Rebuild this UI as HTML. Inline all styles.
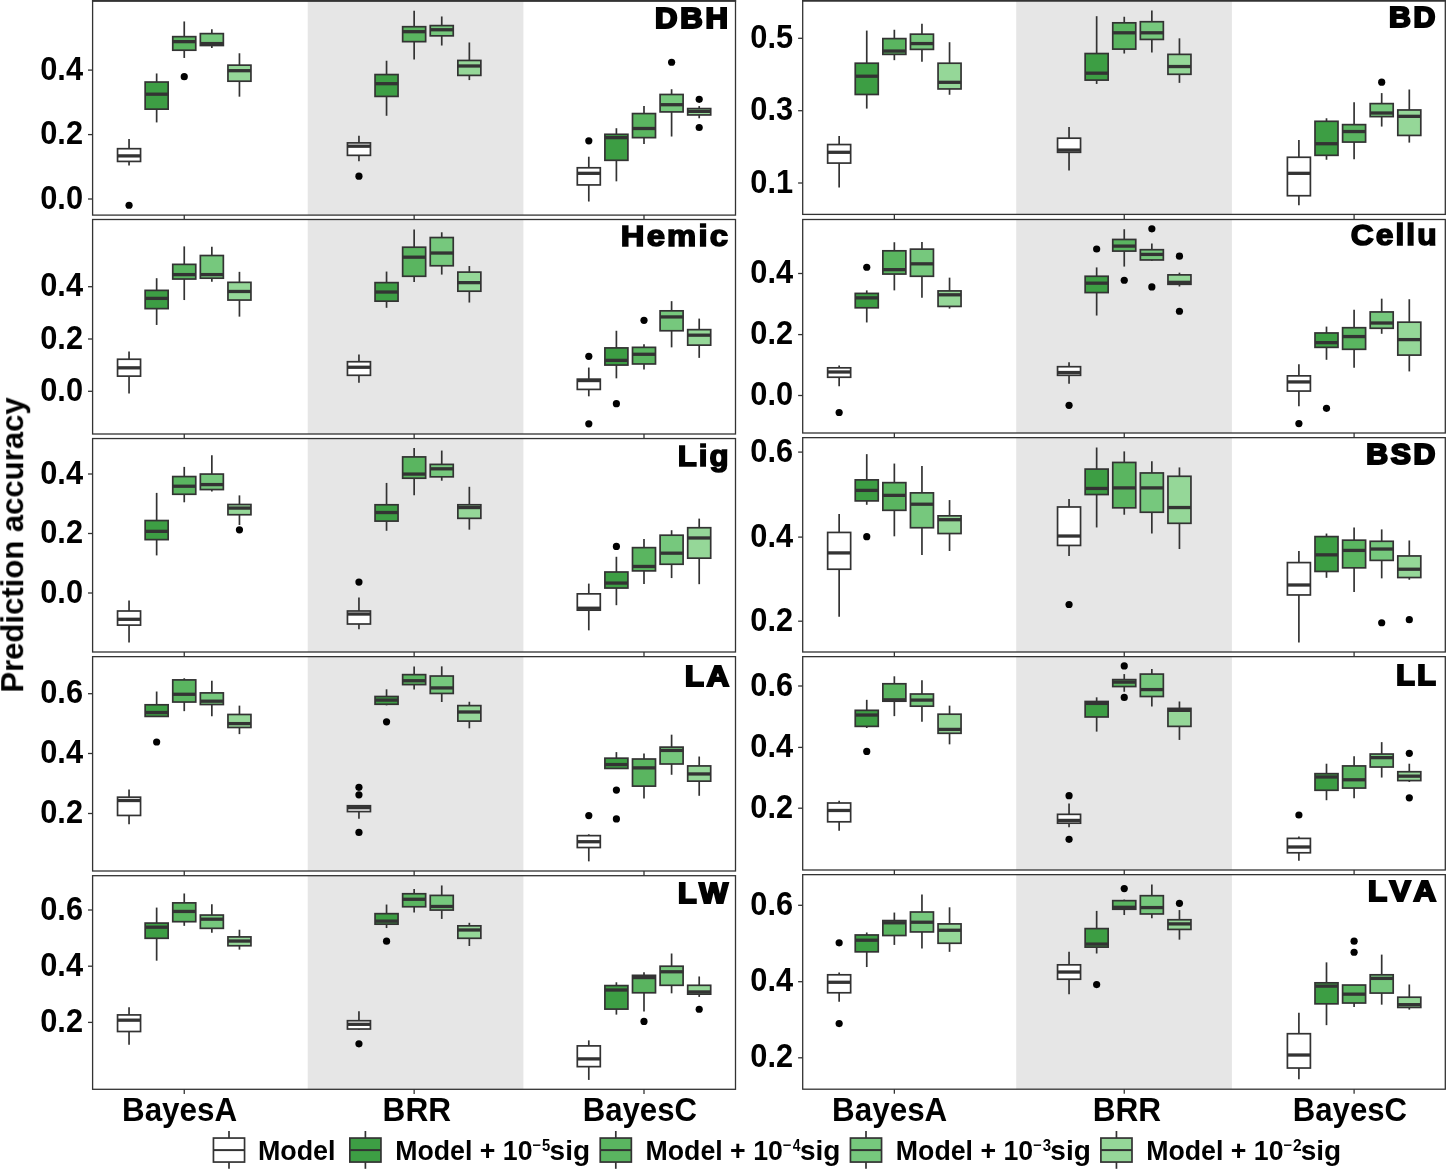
<!DOCTYPE html>
<html><head><meta charset="utf-8"><title>Prediction accuracy</title>
<style>html,body{margin:0;padding:0;background:#fff}svg{display:block}text{font-family:"Liberation Sans",sans-serif;font-weight:bold;fill:#000}</style>
</head><body>
<svg width="1446" height="1174" viewBox="0 0 1446 1174">
<rect x="0" y="0" width="1446" height="1174" fill="#ffffff"/>
<g style="opacity:0.999">
<g id="DBH">
<rect x="307.7" y="0.9" width="215.7" height="214.2" fill="#E6E6E6"/>
<line x1="129.05" y1="139.02" x2="129.05" y2="148.7" stroke="#333333" stroke-width="1.7"/>
<line x1="129.05" y1="161.42" x2="129.05" y2="165.57" stroke="#333333" stroke-width="1.7"/>
<rect x="117.55" y="148.7" width="23" height="12.72" fill="#FFFFFF" stroke="#333333" stroke-width="1.7"/>
<line x1="117.55" y1="155.89" x2="140.55" y2="155.89" stroke="#333333" stroke-width="3.3"/>
<circle cx="129.05" cy="205.26" r="3.6" fill="#000"/>
<line x1="156.65" y1="73.46" x2="156.65" y2="82.03" stroke="#333333" stroke-width="1.7"/>
<line x1="156.65" y1="109.14" x2="156.65" y2="122.42" stroke="#333333" stroke-width="1.7"/>
<rect x="145.15" y="82.03" width="23" height="27.11" fill="#3D9E44" stroke="#333333" stroke-width="1.7"/>
<line x1="145.15" y1="94.2" x2="168.15" y2="94.2" stroke="#333333" stroke-width="3.3"/>
<line x1="184.25" y1="21.45" x2="184.25" y2="36.66" stroke="#333333" stroke-width="1.7"/>
<line x1="184.25" y1="50.22" x2="184.25" y2="57.96" stroke="#333333" stroke-width="1.7"/>
<rect x="172.75" y="36.66" width="23" height="13.55" fill="#5AB560" stroke="#333333" stroke-width="1.7"/>
<line x1="172.75" y1="41.64" x2="195.75" y2="41.64" stroke="#333333" stroke-width="3.3"/>
<circle cx="184.25" cy="76.63" r="3.6" fill="#000"/>
<line x1="211.85" y1="29.2" x2="211.85" y2="33.62" stroke="#333333" stroke-width="1.7"/>
<line x1="211.85" y1="45.52" x2="211.85" y2="48.01" stroke="#333333" stroke-width="1.7"/>
<rect x="200.35" y="33.62" width="23" height="11.89" fill="#76C87D" stroke="#333333" stroke-width="1.7"/>
<line x1="200.35" y1="43.58" x2="223.35" y2="43.58" stroke="#333333" stroke-width="3.3"/>
<line x1="239.45" y1="53.26" x2="239.45" y2="65.16" stroke="#333333" stroke-width="1.7"/>
<line x1="239.45" y1="81.2" x2="239.45" y2="96.69" stroke="#333333" stroke-width="1.7"/>
<rect x="227.95" y="65.16" width="23" height="16.04" fill="#95D798" stroke="#333333" stroke-width="1.7"/>
<line x1="227.95" y1="70.69" x2="250.95" y2="70.69" stroke="#333333" stroke-width="3.3"/>
<line x1="358.95" y1="135.7" x2="358.95" y2="142.89" stroke="#333333" stroke-width="1.7"/>
<line x1="358.95" y1="155.34" x2="358.95" y2="161.15" stroke="#333333" stroke-width="1.7"/>
<rect x="347.45" y="142.89" width="23" height="12.45" fill="#FFFFFF" stroke="#333333" stroke-width="1.7"/>
<line x1="347.45" y1="146.21" x2="370.45" y2="146.21" stroke="#333333" stroke-width="3.3"/>
<circle cx="358.95" cy="176.21" r="3.6" fill="#000"/>
<line x1="386.55" y1="60.73" x2="386.55" y2="74.56" stroke="#333333" stroke-width="1.7"/>
<line x1="386.55" y1="96.42" x2="386.55" y2="115.78" stroke="#333333" stroke-width="1.7"/>
<rect x="375.05" y="74.56" width="23" height="21.85" fill="#3D9E44" stroke="#333333" stroke-width="1.7"/>
<line x1="375.05" y1="83.69" x2="398.05" y2="83.69" stroke="#333333" stroke-width="3.3"/>
<line x1="414.15" y1="10.66" x2="414.15" y2="26.71" stroke="#333333" stroke-width="1.7"/>
<line x1="414.15" y1="41.64" x2="414.15" y2="59.62" stroke="#333333" stroke-width="1.7"/>
<rect x="402.65" y="26.71" width="23" height="14.94" fill="#5AB560" stroke="#333333" stroke-width="1.7"/>
<line x1="402.65" y1="31.69" x2="425.65" y2="31.69" stroke="#333333" stroke-width="3.3"/>
<line x1="441.75" y1="16.47" x2="441.75" y2="25.6" stroke="#333333" stroke-width="1.7"/>
<line x1="441.75" y1="35.83" x2="441.75" y2="45.52" stroke="#333333" stroke-width="1.7"/>
<rect x="430.25" y="25.6" width="23" height="10.24" fill="#76C87D" stroke="#333333" stroke-width="1.7"/>
<line x1="430.25" y1="29.75" x2="453.25" y2="29.75" stroke="#333333" stroke-width="3.3"/>
<line x1="469.35" y1="42.47" x2="469.35" y2="60.45" stroke="#333333" stroke-width="1.7"/>
<line x1="469.35" y1="75.39" x2="469.35" y2="80.09" stroke="#333333" stroke-width="1.7"/>
<rect x="457.85" y="60.45" width="23" height="14.94" fill="#95D798" stroke="#333333" stroke-width="1.7"/>
<line x1="457.85" y1="65.99" x2="480.85" y2="65.99" stroke="#333333" stroke-width="3.3"/>
<line x1="588.8" y1="156.72" x2="588.8" y2="167.78" stroke="#333333" stroke-width="1.7"/>
<line x1="588.8" y1="184.94" x2="588.8" y2="201.53" stroke="#333333" stroke-width="1.7"/>
<rect x="577.3" y="167.78" width="23" height="17.15" fill="#FFFFFF" stroke="#333333" stroke-width="1.7"/>
<line x1="577.3" y1="173.32" x2="600.3" y2="173.32" stroke="#333333" stroke-width="3.3"/>
<circle cx="588.8" cy="140.8" r="3.6" fill="#000"/>
<line x1="616.4" y1="128.23" x2="616.4" y2="134.31" stroke="#333333" stroke-width="1.7"/>
<line x1="616.4" y1="160.32" x2="616.4" y2="181.34" stroke="#333333" stroke-width="1.7"/>
<rect x="604.9" y="134.31" width="23" height="26" fill="#3D9E44" stroke="#333333" stroke-width="1.7"/>
<line x1="604.9" y1="137.63" x2="627.9" y2="137.63" stroke="#333333" stroke-width="3.3"/>
<line x1="644" y1="106.1" x2="644" y2="113.57" stroke="#333333" stroke-width="1.7"/>
<line x1="644" y1="137.63" x2="644" y2="144" stroke="#333333" stroke-width="1.7"/>
<rect x="632.5" y="113.57" width="23" height="24.07" fill="#5AB560" stroke="#333333" stroke-width="1.7"/>
<line x1="632.5" y1="128.5" x2="655.5" y2="128.5" stroke="#333333" stroke-width="3.3"/>
<line x1="671.6" y1="89.22" x2="671.6" y2="94.48" stroke="#333333" stroke-width="1.7"/>
<line x1="671.6" y1="111.91" x2="671.6" y2="136.53" stroke="#333333" stroke-width="1.7"/>
<rect x="660.1" y="94.48" width="23" height="17.43" fill="#76C87D" stroke="#333333" stroke-width="1.7"/>
<line x1="660.1" y1="104.71" x2="683.1" y2="104.71" stroke="#333333" stroke-width="3.3"/>
<circle cx="671.6" cy="62.24" r="3.6" fill="#000"/>
<line x1="699.2" y1="106.1" x2="699.2" y2="108.59" stroke="#333333" stroke-width="1.7"/>
<line x1="699.2" y1="114.95" x2="699.2" y2="118.27" stroke="#333333" stroke-width="1.7"/>
<rect x="687.7" y="108.59" width="23" height="6.36" fill="#95D798" stroke="#333333" stroke-width="1.7"/>
<line x1="687.7" y1="111.35" x2="710.7" y2="111.35" stroke="#333333" stroke-width="3.3"/>
<circle cx="699.2" cy="99.31" r="3.6" fill="#000"/>
<circle cx="699.2" cy="127.52" r="3.6" fill="#000"/>
<rect x="92.6" y="0.9" width="642.9" height="214.2" fill="none" stroke="#333333" stroke-width="1.3"/>
<line x1="91.95" y1="0.85" x2="736.15" y2="0.85" stroke="#333333" stroke-width="1.7"/>
<line x1="184.25" y1="215.1" x2="184.25" y2="219.7" stroke="#333333" stroke-width="1.3"/>
<line x1="414.15" y1="215.1" x2="414.15" y2="219.7" stroke="#333333" stroke-width="1.3"/>
<line x1="644" y1="215.1" x2="644" y2="219.7" stroke="#333333" stroke-width="1.3"/>
<line x1="88" y1="70.1" x2="92.6" y2="70.1" stroke="#333333" stroke-width="1.3"/>
<text transform="translate(83,79.6) scale(0.94,1)" font-size="32.75" text-anchor="end">0.4</text>
<line x1="88" y1="134.6" x2="92.6" y2="134.6" stroke="#333333" stroke-width="1.3"/>
<text transform="translate(83,144.1) scale(0.94,1)" font-size="32.75" text-anchor="end">0.2</text>
<line x1="88" y1="199" x2="92.6" y2="199" stroke="#333333" stroke-width="1.3"/>
<text transform="translate(83,208.5) scale(0.94,1)" font-size="32.75" text-anchor="end">0.0</text>
<text transform="translate(655.09,27.75) scale(1.0536,1)" font-size="29.5" stroke="#000" stroke-width="2.2" stroke-linejoin="miter" style="font-kerning:none" letter-spacing="2.6">DBH</text>
</g>
<g id="BD">
<rect x="1016.2" y="0.2" width="215.7" height="214.2" fill="#E6E6E6"/>
<line x1="839.15" y1="135.97" x2="839.15" y2="144.55" stroke="#333333" stroke-width="1.7"/>
<line x1="839.15" y1="163.08" x2="839.15" y2="187.43" stroke="#333333" stroke-width="1.7"/>
<rect x="827.65" y="144.55" width="23" height="18.53" fill="#FFFFFF" stroke="#333333" stroke-width="1.7"/>
<line x1="827.65" y1="152.29" x2="850.65" y2="152.29" stroke="#333333" stroke-width="3.3"/>
<line x1="866.75" y1="30.58" x2="866.75" y2="63.22" stroke="#333333" stroke-width="1.7"/>
<line x1="866.75" y1="94.48" x2="866.75" y2="108.59" stroke="#333333" stroke-width="1.7"/>
<rect x="855.25" y="63.22" width="23" height="31.26" fill="#3D9E44" stroke="#333333" stroke-width="1.7"/>
<line x1="855.25" y1="76.22" x2="878.25" y2="76.22" stroke="#333333" stroke-width="3.3"/>
<line x1="894.35" y1="29.75" x2="894.35" y2="38.6" stroke="#333333" stroke-width="1.7"/>
<line x1="894.35" y1="54.37" x2="894.35" y2="60.18" stroke="#333333" stroke-width="1.7"/>
<rect x="882.85" y="38.6" width="23" height="15.77" fill="#5AB560" stroke="#333333" stroke-width="1.7"/>
<line x1="882.85" y1="51.05" x2="905.85" y2="51.05" stroke="#333333" stroke-width="3.3"/>
<line x1="921.95" y1="23.66" x2="921.95" y2="34.17" stroke="#333333" stroke-width="1.7"/>
<line x1="921.95" y1="49.39" x2="921.95" y2="61.84" stroke="#333333" stroke-width="1.7"/>
<rect x="910.45" y="34.17" width="23" height="15.21" fill="#76C87D" stroke="#333333" stroke-width="1.7"/>
<line x1="910.45" y1="43.58" x2="933.45" y2="43.58" stroke="#333333" stroke-width="3.3"/>
<line x1="949.55" y1="42.2" x2="949.55" y2="63.22" stroke="#333333" stroke-width="1.7"/>
<line x1="949.55" y1="88.95" x2="949.55" y2="94.76" stroke="#333333" stroke-width="1.7"/>
<rect x="938.05" y="63.22" width="23" height="25.73" fill="#95D798" stroke="#333333" stroke-width="1.7"/>
<line x1="938.05" y1="82.31" x2="961.05" y2="82.31" stroke="#333333" stroke-width="3.3"/>
<line x1="1069.05" y1="127.12" x2="1069.05" y2="138.19" stroke="#333333" stroke-width="1.7"/>
<line x1="1069.05" y1="152.29" x2="1069.05" y2="170.55" stroke="#333333" stroke-width="1.7"/>
<rect x="1057.55" y="138.19" width="23" height="14.11" fill="#FFFFFF" stroke="#333333" stroke-width="1.7"/>
<line x1="1057.55" y1="150.08" x2="1080.55" y2="150.08" stroke="#333333" stroke-width="3.3"/>
<line x1="1096.65" y1="16.19" x2="1096.65" y2="53.54" stroke="#333333" stroke-width="1.7"/>
<line x1="1096.65" y1="80.09" x2="1096.65" y2="83.97" stroke="#333333" stroke-width="1.7"/>
<rect x="1085.15" y="53.54" width="23" height="26.56" fill="#3D9E44" stroke="#333333" stroke-width="1.7"/>
<line x1="1085.15" y1="73.18" x2="1108.15" y2="73.18" stroke="#333333" stroke-width="3.3"/>
<line x1="1124.25" y1="16.75" x2="1124.25" y2="22.83" stroke="#333333" stroke-width="1.7"/>
<line x1="1124.25" y1="49.11" x2="1124.25" y2="53.54" stroke="#333333" stroke-width="1.7"/>
<rect x="1112.75" y="22.83" width="23" height="26.28" fill="#5AB560" stroke="#333333" stroke-width="1.7"/>
<line x1="1112.75" y1="32.79" x2="1135.75" y2="32.79" stroke="#333333" stroke-width="3.3"/>
<line x1="1151.85" y1="10.39" x2="1151.85" y2="21.73" stroke="#333333" stroke-width="1.7"/>
<line x1="1151.85" y1="39.43" x2="1151.85" y2="52.43" stroke="#333333" stroke-width="1.7"/>
<rect x="1140.35" y="21.73" width="23" height="17.7" fill="#76C87D" stroke="#333333" stroke-width="1.7"/>
<line x1="1140.35" y1="32.79" x2="1163.35" y2="32.79" stroke="#333333" stroke-width="3.3"/>
<line x1="1179.45" y1="38.32" x2="1179.45" y2="54.37" stroke="#333333" stroke-width="1.7"/>
<line x1="1179.45" y1="74.29" x2="1179.45" y2="82.86" stroke="#333333" stroke-width="1.7"/>
<rect x="1167.95" y="54.37" width="23" height="19.92" fill="#95D798" stroke="#333333" stroke-width="1.7"/>
<line x1="1167.95" y1="66.54" x2="1190.95" y2="66.54" stroke="#333333" stroke-width="3.3"/>
<line x1="1298.9" y1="140.12" x2="1298.9" y2="157.27" stroke="#333333" stroke-width="1.7"/>
<line x1="1298.9" y1="195.72" x2="1298.9" y2="205.13" stroke="#333333" stroke-width="1.7"/>
<rect x="1287.4" y="157.27" width="23" height="38.45" fill="#FFFFFF" stroke="#333333" stroke-width="1.7"/>
<line x1="1287.4" y1="173.32" x2="1310.4" y2="173.32" stroke="#333333" stroke-width="3.3"/>
<line x1="1326.5" y1="118.27" x2="1326.5" y2="121.31" stroke="#333333" stroke-width="1.7"/>
<line x1="1326.5" y1="155.34" x2="1326.5" y2="159.76" stroke="#333333" stroke-width="1.7"/>
<rect x="1315" y="121.31" width="23" height="34.02" fill="#3D9E44" stroke="#333333" stroke-width="1.7"/>
<line x1="1315" y1="143.72" x2="1338" y2="143.72" stroke="#333333" stroke-width="3.3"/>
<line x1="1354.1" y1="102.22" x2="1354.1" y2="124.63" stroke="#333333" stroke-width="1.7"/>
<line x1="1354.1" y1="142.06" x2="1354.1" y2="159.21" stroke="#333333" stroke-width="1.7"/>
<rect x="1342.6" y="124.63" width="23" height="17.43" fill="#5AB560" stroke="#333333" stroke-width="1.7"/>
<line x1="1342.6" y1="131.55" x2="1365.6" y2="131.55" stroke="#333333" stroke-width="3.3"/>
<line x1="1381.7" y1="93.1" x2="1381.7" y2="103.61" stroke="#333333" stroke-width="1.7"/>
<line x1="1381.7" y1="116.61" x2="1381.7" y2="126.57" stroke="#333333" stroke-width="1.7"/>
<rect x="1370.2" y="103.61" width="23" height="13" fill="#76C87D" stroke="#333333" stroke-width="1.7"/>
<line x1="1370.2" y1="113.01" x2="1393.2" y2="113.01" stroke="#333333" stroke-width="3.3"/>
<circle cx="1381.7" cy="82.16" r="3.6" fill="#000"/>
<line x1="1409.3" y1="89.5" x2="1409.3" y2="109.97" stroke="#333333" stroke-width="1.7"/>
<line x1="1409.3" y1="135.42" x2="1409.3" y2="142.61" stroke="#333333" stroke-width="1.7"/>
<rect x="1397.8" y="109.97" width="23" height="25.45" fill="#95D798" stroke="#333333" stroke-width="1.7"/>
<line x1="1397.8" y1="116.33" x2="1420.8" y2="116.33" stroke="#333333" stroke-width="3.3"/>
<rect x="802.7" y="0.2" width="642.6" height="214.2" fill="none" stroke="#333333" stroke-width="1.3"/>
<line x1="802.05" y1="0.85" x2="1445.95" y2="0.85" stroke="#333333" stroke-width="1.7"/>
<line x1="894.35" y1="214.4" x2="894.35" y2="219" stroke="#333333" stroke-width="1.3"/>
<line x1="1124.25" y1="214.4" x2="1124.25" y2="219" stroke="#333333" stroke-width="1.3"/>
<line x1="1354.1" y1="214.4" x2="1354.1" y2="219" stroke="#333333" stroke-width="1.3"/>
<line x1="798.1" y1="38.3" x2="802.7" y2="38.3" stroke="#333333" stroke-width="1.3"/>
<text transform="translate(793.1,47.8) scale(0.94,1)" font-size="32.75" text-anchor="end">0.5</text>
<line x1="798.1" y1="110.7" x2="802.7" y2="110.7" stroke="#333333" stroke-width="1.3"/>
<text transform="translate(793.1,120.2) scale(0.94,1)" font-size="32.75" text-anchor="end">0.3</text>
<line x1="798.1" y1="183" x2="802.7" y2="183" stroke="#333333" stroke-width="1.3"/>
<text transform="translate(793.1,192.5) scale(0.94,1)" font-size="32.75" text-anchor="end">0.1</text>
<text transform="translate(1389.06,27) scale(1.0253,1)" font-size="29.5" stroke="#000" stroke-width="2.2" stroke-linejoin="miter" style="font-kerning:none" letter-spacing="2.6">BD</text>
</g>
<g id="Hemic">
<rect x="307.7" y="219.5" width="215.7" height="214.5" fill="#E6E6E6"/>
<line x1="129.05" y1="351.51" x2="129.05" y2="359.25" stroke="#333333" stroke-width="1.7"/>
<line x1="129.05" y1="376.13" x2="129.05" y2="393.55" stroke="#333333" stroke-width="1.7"/>
<rect x="117.55" y="359.25" width="23" height="16.87" fill="#FFFFFF" stroke="#333333" stroke-width="1.7"/>
<line x1="117.55" y1="367.83" x2="140.55" y2="367.83" stroke="#333333" stroke-width="3.3"/>
<line x1="156.65" y1="278.2" x2="156.65" y2="290.37" stroke="#333333" stroke-width="1.7"/>
<line x1="156.65" y1="308.63" x2="156.65" y2="324.95" stroke="#333333" stroke-width="1.7"/>
<rect x="145.15" y="290.37" width="23" height="18.26" fill="#3D9E44" stroke="#333333" stroke-width="1.7"/>
<line x1="145.15" y1="298.39" x2="168.15" y2="298.39" stroke="#333333" stroke-width="3.3"/>
<line x1="184.25" y1="246.39" x2="184.25" y2="264.37" stroke="#333333" stroke-width="1.7"/>
<line x1="184.25" y1="279.03" x2="184.25" y2="300.05" stroke="#333333" stroke-width="1.7"/>
<rect x="172.75" y="264.37" width="23" height="14.66" fill="#5AB560" stroke="#333333" stroke-width="1.7"/>
<line x1="172.75" y1="274.6" x2="195.75" y2="274.6" stroke="#333333" stroke-width="3.3"/>
<line x1="211.85" y1="246.66" x2="211.85" y2="255.52" stroke="#333333" stroke-width="1.7"/>
<line x1="211.85" y1="278.2" x2="211.85" y2="281.8" stroke="#333333" stroke-width="1.7"/>
<rect x="200.35" y="255.52" width="23" height="22.68" fill="#76C87D" stroke="#333333" stroke-width="1.7"/>
<line x1="200.35" y1="274.6" x2="223.35" y2="274.6" stroke="#333333" stroke-width="3.3"/>
<line x1="239.45" y1="271.84" x2="239.45" y2="282.35" stroke="#333333" stroke-width="1.7"/>
<line x1="239.45" y1="300.05" x2="239.45" y2="316.65" stroke="#333333" stroke-width="1.7"/>
<rect x="227.95" y="282.35" width="23" height="17.7" fill="#95D798" stroke="#333333" stroke-width="1.7"/>
<line x1="227.95" y1="291.48" x2="250.95" y2="291.48" stroke="#333333" stroke-width="3.3"/>
<line x1="358.95" y1="354.55" x2="358.95" y2="361.74" stroke="#333333" stroke-width="1.7"/>
<line x1="358.95" y1="375.3" x2="358.95" y2="382.76" stroke="#333333" stroke-width="1.7"/>
<rect x="347.45" y="361.74" width="23" height="13.55" fill="#FFFFFF" stroke="#333333" stroke-width="1.7"/>
<line x1="347.45" y1="367.27" x2="370.45" y2="367.27" stroke="#333333" stroke-width="3.3"/>
<line x1="386.55" y1="271.56" x2="386.55" y2="282.63" stroke="#333333" stroke-width="1.7"/>
<line x1="386.55" y1="301.16" x2="386.55" y2="307.8" stroke="#333333" stroke-width="1.7"/>
<rect x="375.05" y="282.63" width="23" height="18.53" fill="#3D9E44" stroke="#333333" stroke-width="1.7"/>
<line x1="375.05" y1="292.03" x2="398.05" y2="292.03" stroke="#333333" stroke-width="3.3"/>
<line x1="414.15" y1="229.51" x2="414.15" y2="247.22" stroke="#333333" stroke-width="1.7"/>
<line x1="414.15" y1="276.26" x2="414.15" y2="282.07" stroke="#333333" stroke-width="1.7"/>
<rect x="402.65" y="247.22" width="23" height="29.05" fill="#5AB560" stroke="#333333" stroke-width="1.7"/>
<line x1="402.65" y1="257.18" x2="425.65" y2="257.18" stroke="#333333" stroke-width="3.3"/>
<line x1="441.75" y1="232.28" x2="441.75" y2="237.54" stroke="#333333" stroke-width="1.7"/>
<line x1="441.75" y1="265.75" x2="441.75" y2="274.6" stroke="#333333" stroke-width="1.7"/>
<rect x="430.25" y="237.54" width="23" height="28.22" fill="#76C87D" stroke="#333333" stroke-width="1.7"/>
<line x1="430.25" y1="253.03" x2="453.25" y2="253.03" stroke="#333333" stroke-width="3.3"/>
<line x1="469.35" y1="266.03" x2="469.35" y2="272.11" stroke="#333333" stroke-width="1.7"/>
<line x1="469.35" y1="291.2" x2="469.35" y2="302.54" stroke="#333333" stroke-width="1.7"/>
<rect x="457.85" y="272.11" width="23" height="19.09" fill="#95D798" stroke="#333333" stroke-width="1.7"/>
<line x1="457.85" y1="282.63" x2="480.85" y2="282.63" stroke="#333333" stroke-width="3.3"/>
<line x1="588.8" y1="367.55" x2="588.8" y2="379.17" stroke="#333333" stroke-width="1.7"/>
<line x1="588.8" y1="389.4" x2="588.8" y2="396.32" stroke="#333333" stroke-width="1.7"/>
<rect x="577.3" y="379.17" width="23" height="10.24" fill="#FFFFFF" stroke="#333333" stroke-width="1.7"/>
<line x1="577.3" y1="380.55" x2="600.3" y2="380.55" stroke="#333333" stroke-width="3.3"/>
<circle cx="588.8" cy="356.33" r="3.6" fill="#000"/>
<circle cx="588.8" cy="423.83" r="3.6" fill="#000"/>
<line x1="616.4" y1="330.76" x2="616.4" y2="347.91" stroke="#333333" stroke-width="1.7"/>
<line x1="616.4" y1="365.06" x2="616.4" y2="378.34" stroke="#333333" stroke-width="1.7"/>
<rect x="604.9" y="347.91" width="23" height="17.15" fill="#3D9E44" stroke="#333333" stroke-width="1.7"/>
<line x1="604.9" y1="360.36" x2="627.9" y2="360.36" stroke="#333333" stroke-width="3.3"/>
<circle cx="616.4" cy="403.64" r="3.6" fill="#000"/>
<line x1="644" y1="344.31" x2="644" y2="347.36" stroke="#333333" stroke-width="1.7"/>
<line x1="644" y1="363.95" x2="644" y2="369.49" stroke="#333333" stroke-width="1.7"/>
<rect x="632.5" y="347.36" width="23" height="16.6" fill="#5AB560" stroke="#333333" stroke-width="1.7"/>
<line x1="632.5" y1="354.27" x2="655.5" y2="354.27" stroke="#333333" stroke-width="3.3"/>
<circle cx="644" cy="320.37" r="3.6" fill="#000"/>
<line x1="671.6" y1="301.16" x2="671.6" y2="310.84" stroke="#333333" stroke-width="1.7"/>
<line x1="671.6" y1="330.76" x2="671.6" y2="347.36" stroke="#333333" stroke-width="1.7"/>
<rect x="660.1" y="310.84" width="23" height="19.92" fill="#76C87D" stroke="#333333" stroke-width="1.7"/>
<line x1="660.1" y1="316.93" x2="683.1" y2="316.93" stroke="#333333" stroke-width="3.3"/>
<line x1="699.2" y1="318.59" x2="699.2" y2="329.65" stroke="#333333" stroke-width="1.7"/>
<line x1="699.2" y1="345.14" x2="699.2" y2="357.87" stroke="#333333" stroke-width="1.7"/>
<rect x="687.7" y="329.65" width="23" height="15.49" fill="#95D798" stroke="#333333" stroke-width="1.7"/>
<line x1="687.7" y1="335.18" x2="710.7" y2="335.18" stroke="#333333" stroke-width="3.3"/>
<rect x="92.6" y="219.5" width="642.9" height="214.5" fill="none" stroke="#333333" stroke-width="1.3"/>
<line x1="184.25" y1="434" x2="184.25" y2="438.6" stroke="#333333" stroke-width="1.3"/>
<line x1="414.15" y1="434" x2="414.15" y2="438.6" stroke="#333333" stroke-width="1.3"/>
<line x1="644" y1="434" x2="644" y2="438.6" stroke="#333333" stroke-width="1.3"/>
<line x1="88" y1="286.7" x2="92.6" y2="286.7" stroke="#333333" stroke-width="1.3"/>
<text transform="translate(83,296.2) scale(0.94,1)" font-size="32.75" text-anchor="end">0.4</text>
<line x1="88" y1="339" x2="92.6" y2="339" stroke="#333333" stroke-width="1.3"/>
<text transform="translate(83,348.5) scale(0.94,1)" font-size="32.75" text-anchor="end">0.2</text>
<line x1="88" y1="391.3" x2="92.6" y2="391.3" stroke="#333333" stroke-width="1.3"/>
<text transform="translate(83,400.8) scale(0.94,1)" font-size="32.75" text-anchor="end">0.0</text>
<text transform="translate(620.83,246.15) scale(1.0828,1)" font-size="30.3" stroke="#000" stroke-width="1.6" stroke-linejoin="miter" style="font-kerning:none" letter-spacing="2">Hemic</text>
</g>
<g id="Cellu">
<rect x="1016.2" y="219.5" width="215.7" height="213.5" fill="#E6E6E6"/>
<line x1="839.15" y1="365.61" x2="839.15" y2="367.83" stroke="#333333" stroke-width="1.7"/>
<line x1="839.15" y1="377.23" x2="839.15" y2="386.36" stroke="#333333" stroke-width="1.7"/>
<rect x="827.65" y="367.83" width="23" height="9.41" fill="#FFFFFF" stroke="#333333" stroke-width="1.7"/>
<line x1="827.65" y1="371.98" x2="850.65" y2="371.98" stroke="#333333" stroke-width="3.3"/>
<circle cx="839.15" cy="412.49" r="3.6" fill="#000"/>
<line x1="866.75" y1="290.37" x2="866.75" y2="293.41" stroke="#333333" stroke-width="1.7"/>
<line x1="866.75" y1="307.8" x2="866.75" y2="322.46" stroke="#333333" stroke-width="1.7"/>
<rect x="855.25" y="293.41" width="23" height="14.38" fill="#3D9E44" stroke="#333333" stroke-width="1.7"/>
<line x1="855.25" y1="297.84" x2="878.25" y2="297.84" stroke="#333333" stroke-width="3.3"/>
<circle cx="866.75" cy="267.26" r="3.6" fill="#000"/>
<line x1="894.35" y1="242.24" x2="894.35" y2="250.81" stroke="#333333" stroke-width="1.7"/>
<line x1="894.35" y1="274.05" x2="894.35" y2="290.37" stroke="#333333" stroke-width="1.7"/>
<rect x="882.85" y="250.81" width="23" height="23.24" fill="#5AB560" stroke="#333333" stroke-width="1.7"/>
<line x1="882.85" y1="269.62" x2="905.85" y2="269.62" stroke="#333333" stroke-width="3.3"/>
<line x1="921.95" y1="241.96" x2="921.95" y2="249.15" stroke="#333333" stroke-width="1.7"/>
<line x1="921.95" y1="276.26" x2="921.95" y2="297.84" stroke="#333333" stroke-width="1.7"/>
<rect x="910.45" y="249.15" width="23" height="27.11" fill="#76C87D" stroke="#333333" stroke-width="1.7"/>
<line x1="910.45" y1="263.82" x2="933.45" y2="263.82" stroke="#333333" stroke-width="3.3"/>
<line x1="949.55" y1="277.65" x2="949.55" y2="290.92" stroke="#333333" stroke-width="1.7"/>
<line x1="949.55" y1="306.42" x2="949.55" y2="308.63" stroke="#333333" stroke-width="1.7"/>
<rect x="938.05" y="290.92" width="23" height="15.49" fill="#95D798" stroke="#333333" stroke-width="1.7"/>
<line x1="938.05" y1="294.8" x2="961.05" y2="294.8" stroke="#333333" stroke-width="3.3"/>
<line x1="1069.05" y1="362.29" x2="1069.05" y2="366.72" stroke="#333333" stroke-width="1.7"/>
<line x1="1069.05" y1="375.3" x2="1069.05" y2="383.87" stroke="#333333" stroke-width="1.7"/>
<rect x="1057.55" y="366.72" width="23" height="8.58" fill="#FFFFFF" stroke="#333333" stroke-width="1.7"/>
<line x1="1057.55" y1="372.53" x2="1080.55" y2="372.53" stroke="#333333" stroke-width="3.3"/>
<circle cx="1069.05" cy="405.3" r="3.6" fill="#000"/>
<line x1="1096.65" y1="267.41" x2="1096.65" y2="276.26" stroke="#333333" stroke-width="1.7"/>
<line x1="1096.65" y1="292.58" x2="1096.65" y2="315.54" stroke="#333333" stroke-width="1.7"/>
<rect x="1085.15" y="276.26" width="23" height="16.32" fill="#3D9E44" stroke="#333333" stroke-width="1.7"/>
<line x1="1085.15" y1="283.18" x2="1108.15" y2="283.18" stroke="#333333" stroke-width="3.3"/>
<circle cx="1096.65" cy="249" r="3.6" fill="#000"/>
<line x1="1124.25" y1="229.24" x2="1124.25" y2="239.47" stroke="#333333" stroke-width="1.7"/>
<line x1="1124.25" y1="251.09" x2="1124.25" y2="266.58" stroke="#333333" stroke-width="1.7"/>
<rect x="1112.75" y="239.47" width="23" height="11.62" fill="#5AB560" stroke="#333333" stroke-width="1.7"/>
<line x1="1112.75" y1="246.11" x2="1135.75" y2="246.11" stroke="#333333" stroke-width="3.3"/>
<circle cx="1124.25" cy="280.26" r="3.6" fill="#000"/>
<line x1="1151.85" y1="243.62" x2="1151.85" y2="249.71" stroke="#333333" stroke-width="1.7"/>
<line x1="1151.85" y1="259.94" x2="1151.85" y2="260.77" stroke="#333333" stroke-width="1.7"/>
<rect x="1140.35" y="249.71" width="23" height="10.24" fill="#76C87D" stroke="#333333" stroke-width="1.7"/>
<line x1="1140.35" y1="254.41" x2="1163.35" y2="254.41" stroke="#333333" stroke-width="3.3"/>
<circle cx="1151.85" cy="228.81" r="3.6" fill="#000"/>
<circle cx="1151.85" cy="286.9" r="3.6" fill="#000"/>
<line x1="1179.45" y1="272.67" x2="1179.45" y2="274.88" stroke="#333333" stroke-width="1.7"/>
<line x1="1179.45" y1="284.29" x2="1179.45" y2="286.5" stroke="#333333" stroke-width="1.7"/>
<rect x="1167.95" y="274.88" width="23" height="9.41" fill="#95D798" stroke="#333333" stroke-width="1.7"/>
<line x1="1167.95" y1="282.35" x2="1190.95" y2="282.35" stroke="#333333" stroke-width="3.3"/>
<circle cx="1179.45" cy="256.2" r="3.6" fill="#000"/>
<circle cx="1179.45" cy="311.24" r="3.6" fill="#000"/>
<line x1="1298.9" y1="364.23" x2="1298.9" y2="375.85" stroke="#333333" stroke-width="1.7"/>
<line x1="1298.9" y1="391.06" x2="1298.9" y2="406.28" stroke="#333333" stroke-width="1.7"/>
<rect x="1287.4" y="375.85" width="23" height="15.21" fill="#FFFFFF" stroke="#333333" stroke-width="1.7"/>
<line x1="1287.4" y1="381.93" x2="1310.4" y2="381.93" stroke="#333333" stroke-width="3.3"/>
<circle cx="1298.9" cy="423.55" r="3.6" fill="#000"/>
<line x1="1326.5" y1="326.61" x2="1326.5" y2="332.97" stroke="#333333" stroke-width="1.7"/>
<line x1="1326.5" y1="347.36" x2="1326.5" y2="359.8" stroke="#333333" stroke-width="1.7"/>
<rect x="1315" y="332.97" width="23" height="14.38" fill="#3D9E44" stroke="#333333" stroke-width="1.7"/>
<line x1="1315" y1="342.65" x2="1338" y2="342.65" stroke="#333333" stroke-width="3.3"/>
<circle cx="1326.5" cy="408.34" r="3.6" fill="#000"/>
<line x1="1354.1" y1="309.74" x2="1354.1" y2="327.72" stroke="#333333" stroke-width="1.7"/>
<line x1="1354.1" y1="349.29" x2="1354.1" y2="367.83" stroke="#333333" stroke-width="1.7"/>
<rect x="1342.6" y="327.72" width="23" height="21.58" fill="#5AB560" stroke="#333333" stroke-width="1.7"/>
<line x1="1342.6" y1="336.57" x2="1365.6" y2="336.57" stroke="#333333" stroke-width="3.3"/>
<line x1="1381.7" y1="298.67" x2="1381.7" y2="311.95" stroke="#333333" stroke-width="1.7"/>
<line x1="1381.7" y1="328.27" x2="1381.7" y2="333.8" stroke="#333333" stroke-width="1.7"/>
<rect x="1370.2" y="311.95" width="23" height="16.32" fill="#76C87D" stroke="#333333" stroke-width="1.7"/>
<line x1="1370.2" y1="323.01" x2="1393.2" y2="323.01" stroke="#333333" stroke-width="3.3"/>
<line x1="1409.3" y1="299.22" x2="1409.3" y2="322.18" stroke="#333333" stroke-width="1.7"/>
<line x1="1409.3" y1="355.1" x2="1409.3" y2="371.42" stroke="#333333" stroke-width="1.7"/>
<rect x="1397.8" y="322.18" width="23" height="32.92" fill="#95D798" stroke="#333333" stroke-width="1.7"/>
<line x1="1397.8" y1="339.61" x2="1420.8" y2="339.61" stroke="#333333" stroke-width="3.3"/>
<rect x="802.7" y="219.5" width="642.6" height="213.5" fill="none" stroke="#333333" stroke-width="1.3"/>
<line x1="894.35" y1="433" x2="894.35" y2="437.6" stroke="#333333" stroke-width="1.3"/>
<line x1="1124.25" y1="433" x2="1124.25" y2="437.6" stroke="#333333" stroke-width="1.3"/>
<line x1="1354.1" y1="433" x2="1354.1" y2="437.6" stroke="#333333" stroke-width="1.3"/>
<line x1="798.1" y1="273.5" x2="802.7" y2="273.5" stroke="#333333" stroke-width="1.3"/>
<text transform="translate(793.1,283) scale(0.94,1)" font-size="32.75" text-anchor="end">0.4</text>
<line x1="798.1" y1="334.6" x2="802.7" y2="334.6" stroke="#333333" stroke-width="1.3"/>
<text transform="translate(793.1,344.1) scale(0.94,1)" font-size="32.75" text-anchor="end">0.2</text>
<line x1="798.1" y1="395.5" x2="802.7" y2="395.5" stroke="#333333" stroke-width="1.3"/>
<text transform="translate(793.1,405) scale(0.94,1)" font-size="32.75" text-anchor="end">0.0</text>
<text transform="translate(1350.77,245.3) scale(1.0459,1)" font-size="30.3" stroke="#000" stroke-width="1.6" stroke-linejoin="miter" style="font-kerning:none" letter-spacing="2">Cellu</text>
</g>
<g id="Lig">
<rect x="307.7" y="438.55" width="215.7" height="213.45" fill="#E6E6E6"/>
<line x1="129.05" y1="600.49" x2="129.05" y2="611" stroke="#333333" stroke-width="1.7"/>
<line x1="129.05" y1="625.11" x2="129.05" y2="642.53" stroke="#333333" stroke-width="1.7"/>
<rect x="117.55" y="611" width="23" height="14.11" fill="#FFFFFF" stroke="#333333" stroke-width="1.7"/>
<line x1="117.55" y1="619.3" x2="140.55" y2="619.3" stroke="#333333" stroke-width="3.3"/>
<line x1="156.65" y1="492.88" x2="156.65" y2="520.54" stroke="#333333" stroke-width="1.7"/>
<line x1="156.65" y1="539.63" x2="156.65" y2="555.4" stroke="#333333" stroke-width="1.7"/>
<rect x="145.15" y="520.54" width="23" height="19.09" fill="#3D9E44" stroke="#333333" stroke-width="1.7"/>
<line x1="145.15" y1="531.33" x2="168.15" y2="531.33" stroke="#333333" stroke-width="3.3"/>
<line x1="184.25" y1="466.88" x2="184.25" y2="476.56" stroke="#333333" stroke-width="1.7"/>
<line x1="184.25" y1="494.26" x2="184.25" y2="502.29" stroke="#333333" stroke-width="1.7"/>
<rect x="172.75" y="476.56" width="23" height="17.7" fill="#5AB560" stroke="#333333" stroke-width="1.7"/>
<line x1="172.75" y1="486.24" x2="195.75" y2="486.24" stroke="#333333" stroke-width="3.3"/>
<line x1="211.85" y1="455.26" x2="211.85" y2="474.07" stroke="#333333" stroke-width="1.7"/>
<line x1="211.85" y1="489.56" x2="211.85" y2="491.5" stroke="#333333" stroke-width="1.7"/>
<rect x="200.35" y="474.07" width="23" height="15.49" fill="#76C87D" stroke="#333333" stroke-width="1.7"/>
<line x1="200.35" y1="484.58" x2="223.35" y2="484.58" stroke="#333333" stroke-width="3.3"/>
<line x1="239.45" y1="495.37" x2="239.45" y2="504.5" stroke="#333333" stroke-width="1.7"/>
<line x1="239.45" y1="514.73" x2="239.45" y2="524.97" stroke="#333333" stroke-width="1.7"/>
<rect x="227.95" y="504.5" width="23" height="10.24" fill="#95D798" stroke="#333333" stroke-width="1.7"/>
<line x1="227.95" y1="508.09" x2="250.95" y2="508.09" stroke="#333333" stroke-width="3.3"/>
<circle cx="239.45" cy="529.8" r="3.6" fill="#000"/>
<line x1="358.95" y1="597.44" x2="358.95" y2="611" stroke="#333333" stroke-width="1.7"/>
<line x1="358.95" y1="624" x2="358.95" y2="629.26" stroke="#333333" stroke-width="1.7"/>
<rect x="347.45" y="611" width="23" height="13" fill="#FFFFFF" stroke="#333333" stroke-width="1.7"/>
<line x1="347.45" y1="614.04" x2="370.45" y2="614.04" stroke="#333333" stroke-width="3.3"/>
<circle cx="358.95" cy="582.08" r="3.6" fill="#000"/>
<line x1="386.55" y1="482.92" x2="386.55" y2="504.78" stroke="#333333" stroke-width="1.7"/>
<line x1="386.55" y1="521.1" x2="386.55" y2="530.78" stroke="#333333" stroke-width="1.7"/>
<rect x="375.05" y="504.78" width="23" height="16.32" fill="#3D9E44" stroke="#333333" stroke-width="1.7"/>
<line x1="375.05" y1="512.52" x2="398.05" y2="512.52" stroke="#333333" stroke-width="3.3"/>
<line x1="414.15" y1="448.07" x2="414.15" y2="456.92" stroke="#333333" stroke-width="1.7"/>
<line x1="414.15" y1="478.22" x2="414.15" y2="495.37" stroke="#333333" stroke-width="1.7"/>
<rect x="402.65" y="456.92" width="23" height="21.3" fill="#5AB560" stroke="#333333" stroke-width="1.7"/>
<line x1="402.65" y1="474.07" x2="425.65" y2="474.07" stroke="#333333" stroke-width="3.3"/>
<line x1="441.75" y1="450.56" x2="441.75" y2="464.39" stroke="#333333" stroke-width="1.7"/>
<line x1="441.75" y1="476.84" x2="441.75" y2="480.71" stroke="#333333" stroke-width="1.7"/>
<rect x="430.25" y="464.39" width="23" height="12.45" fill="#76C87D" stroke="#333333" stroke-width="1.7"/>
<line x1="430.25" y1="468.81" x2="453.25" y2="468.81" stroke="#333333" stroke-width="3.3"/>
<line x1="469.35" y1="486.79" x2="469.35" y2="504.78" stroke="#333333" stroke-width="1.7"/>
<line x1="469.35" y1="518.33" x2="469.35" y2="529.67" stroke="#333333" stroke-width="1.7"/>
<rect x="457.85" y="504.78" width="23" height="13.55" fill="#95D798" stroke="#333333" stroke-width="1.7"/>
<line x1="457.85" y1="507.54" x2="480.85" y2="507.54" stroke="#333333" stroke-width="3.3"/>
<line x1="588.8" y1="583.61" x2="588.8" y2="593.85" stroke="#333333" stroke-width="1.7"/>
<line x1="588.8" y1="610.17" x2="588.8" y2="630.36" stroke="#333333" stroke-width="1.7"/>
<rect x="577.3" y="593.85" width="23" height="16.32" fill="#FFFFFF" stroke="#333333" stroke-width="1.7"/>
<line x1="577.3" y1="608.23" x2="600.3" y2="608.23" stroke="#333333" stroke-width="3.3"/>
<line x1="616.4" y1="556.78" x2="616.4" y2="572" stroke="#333333" stroke-width="1.7"/>
<line x1="616.4" y1="588.04" x2="616.4" y2="605.19" stroke="#333333" stroke-width="1.7"/>
<rect x="604.9" y="572" width="23" height="16.04" fill="#3D9E44" stroke="#333333" stroke-width="1.7"/>
<line x1="604.9" y1="583.06" x2="627.9" y2="583.06" stroke="#333333" stroke-width="3.3"/>
<circle cx="616.4" cy="546.4" r="3.6" fill="#000"/>
<line x1="644" y1="539.08" x2="644" y2="547.65" stroke="#333333" stroke-width="1.7"/>
<line x1="644" y1="570.89" x2="644" y2="583.89" stroke="#333333" stroke-width="1.7"/>
<rect x="632.5" y="547.65" width="23" height="23.24" fill="#5AB560" stroke="#333333" stroke-width="1.7"/>
<line x1="632.5" y1="566.46" x2="655.5" y2="566.46" stroke="#333333" stroke-width="3.3"/>
<line x1="671.6" y1="530.22" x2="671.6" y2="535.2" stroke="#333333" stroke-width="1.7"/>
<line x1="671.6" y1="564.25" x2="671.6" y2="578.08" stroke="#333333" stroke-width="1.7"/>
<rect x="660.1" y="535.2" width="23" height="29.05" fill="#76C87D" stroke="#333333" stroke-width="1.7"/>
<line x1="660.1" y1="553.18" x2="683.1" y2="553.18" stroke="#333333" stroke-width="3.3"/>
<line x1="699.2" y1="518.61" x2="699.2" y2="527.74" stroke="#333333" stroke-width="1.7"/>
<line x1="699.2" y1="558.16" x2="699.2" y2="584.17" stroke="#333333" stroke-width="1.7"/>
<rect x="687.7" y="527.74" width="23" height="30.43" fill="#95D798" stroke="#333333" stroke-width="1.7"/>
<line x1="687.7" y1="537.97" x2="710.7" y2="537.97" stroke="#333333" stroke-width="3.3"/>
<rect x="92.6" y="438.55" width="642.9" height="213.45" fill="none" stroke="#333333" stroke-width="1.3"/>
<line x1="184.25" y1="652" x2="184.25" y2="656.6" stroke="#333333" stroke-width="1.3"/>
<line x1="414.15" y1="652" x2="414.15" y2="656.6" stroke="#333333" stroke-width="1.3"/>
<line x1="644" y1="652" x2="644" y2="656.6" stroke="#333333" stroke-width="1.3"/>
<line x1="88" y1="474" x2="92.6" y2="474" stroke="#333333" stroke-width="1.3"/>
<text transform="translate(83,483.5) scale(0.94,1)" font-size="32.75" text-anchor="end">0.4</text>
<line x1="88" y1="533.5" x2="92.6" y2="533.5" stroke="#333333" stroke-width="1.3"/>
<text transform="translate(83,543) scale(0.94,1)" font-size="32.75" text-anchor="end">0.2</text>
<line x1="88" y1="593" x2="92.6" y2="593" stroke="#333333" stroke-width="1.3"/>
<text transform="translate(83,602.5) scale(0.94,1)" font-size="32.75" text-anchor="end">0.0</text>
<text transform="translate(677.69,466.3) scale(1.0307,1)" font-size="30.3" stroke="#000" stroke-width="1.6" stroke-linejoin="miter" style="font-kerning:none" letter-spacing="2">Lig</text>
</g>
<g id="BSD">
<rect x="1016.2" y="437.65" width="215.7" height="214.35" fill="#E6E6E6"/>
<line x1="839.15" y1="513.9" x2="839.15" y2="532.44" stroke="#333333" stroke-width="1.7"/>
<line x1="839.15" y1="569.23" x2="839.15" y2="616.81" stroke="#333333" stroke-width="1.7"/>
<rect x="827.65" y="532.44" width="23" height="36.79" fill="#FFFFFF" stroke="#333333" stroke-width="1.7"/>
<line x1="827.65" y1="552.91" x2="850.65" y2="552.91" stroke="#333333" stroke-width="3.3"/>
<line x1="866.75" y1="454.15" x2="866.75" y2="479.88" stroke="#333333" stroke-width="1.7"/>
<line x1="866.75" y1="500.9" x2="866.75" y2="504.78" stroke="#333333" stroke-width="1.7"/>
<rect x="855.25" y="479.88" width="23" height="21.02" fill="#3D9E44" stroke="#333333" stroke-width="1.7"/>
<line x1="855.25" y1="490.39" x2="878.25" y2="490.39" stroke="#333333" stroke-width="3.3"/>
<circle cx="866.75" cy="536.71" r="3.6" fill="#000"/>
<line x1="894.35" y1="463.56" x2="894.35" y2="482.65" stroke="#333333" stroke-width="1.7"/>
<line x1="894.35" y1="510.31" x2="894.35" y2="536.31" stroke="#333333" stroke-width="1.7"/>
<rect x="882.85" y="482.65" width="23" height="27.66" fill="#5AB560" stroke="#333333" stroke-width="1.7"/>
<line x1="882.85" y1="495.37" x2="905.85" y2="495.37" stroke="#333333" stroke-width="3.3"/>
<line x1="921.95" y1="466.05" x2="921.95" y2="492.88" stroke="#333333" stroke-width="1.7"/>
<line x1="921.95" y1="527.74" x2="921.95" y2="555.12" stroke="#333333" stroke-width="1.7"/>
<rect x="910.45" y="492.88" width="23" height="34.85" fill="#76C87D" stroke="#333333" stroke-width="1.7"/>
<line x1="910.45" y1="504.22" x2="933.45" y2="504.22" stroke="#333333" stroke-width="3.3"/>
<line x1="949.55" y1="500.07" x2="949.55" y2="515.84" stroke="#333333" stroke-width="1.7"/>
<line x1="949.55" y1="533.54" x2="949.55" y2="550.97" stroke="#333333" stroke-width="1.7"/>
<rect x="938.05" y="515.84" width="23" height="17.7" fill="#95D798" stroke="#333333" stroke-width="1.7"/>
<line x1="938.05" y1="519.71" x2="961.05" y2="519.71" stroke="#333333" stroke-width="3.3"/>
<line x1="1069.05" y1="498.97" x2="1069.05" y2="506.99" stroke="#333333" stroke-width="1.7"/>
<line x1="1069.05" y1="545.44" x2="1069.05" y2="555.95" stroke="#333333" stroke-width="1.7"/>
<rect x="1057.55" y="506.99" width="23" height="38.45" fill="#FFFFFF" stroke="#333333" stroke-width="1.7"/>
<line x1="1057.55" y1="536.03" x2="1080.55" y2="536.03" stroke="#333333" stroke-width="3.3"/>
<circle cx="1069.05" cy="604.49" r="3.6" fill="#000"/>
<line x1="1096.65" y1="447.51" x2="1096.65" y2="469.09" stroke="#333333" stroke-width="1.7"/>
<line x1="1096.65" y1="494.54" x2="1096.65" y2="527.46" stroke="#333333" stroke-width="1.7"/>
<rect x="1085.15" y="469.09" width="23" height="25.45" fill="#3D9E44" stroke="#333333" stroke-width="1.7"/>
<line x1="1085.15" y1="488.45" x2="1108.15" y2="488.45" stroke="#333333" stroke-width="3.3"/>
<line x1="1124.25" y1="451.39" x2="1124.25" y2="462.45" stroke="#333333" stroke-width="1.7"/>
<line x1="1124.25" y1="507.82" x2="1124.25" y2="514.73" stroke="#333333" stroke-width="1.7"/>
<rect x="1112.75" y="462.45" width="23" height="45.37" fill="#5AB560" stroke="#333333" stroke-width="1.7"/>
<line x1="1112.75" y1="487.9" x2="1135.75" y2="487.9" stroke="#333333" stroke-width="3.3"/>
<line x1="1151.85" y1="461.35" x2="1151.85" y2="472.96" stroke="#333333" stroke-width="1.7"/>
<line x1="1151.85" y1="512.24" x2="1151.85" y2="533.54" stroke="#333333" stroke-width="1.7"/>
<rect x="1140.35" y="472.96" width="23" height="39.28" fill="#76C87D" stroke="#333333" stroke-width="1.7"/>
<line x1="1140.35" y1="487.9" x2="1163.35" y2="487.9" stroke="#333333" stroke-width="3.3"/>
<line x1="1179.45" y1="467.43" x2="1179.45" y2="476.28" stroke="#333333" stroke-width="1.7"/>
<line x1="1179.45" y1="523.31" x2="1179.45" y2="549.04" stroke="#333333" stroke-width="1.7"/>
<rect x="1167.95" y="476.28" width="23" height="47.03" fill="#95D798" stroke="#333333" stroke-width="1.7"/>
<line x1="1167.95" y1="507.54" x2="1190.95" y2="507.54" stroke="#333333" stroke-width="3.3"/>
<line x1="1298.9" y1="550.97" x2="1298.9" y2="562.59" stroke="#333333" stroke-width="1.7"/>
<line x1="1298.9" y1="594.95" x2="1298.9" y2="642.53" stroke="#333333" stroke-width="1.7"/>
<rect x="1287.4" y="562.59" width="23" height="32.37" fill="#FFFFFF" stroke="#333333" stroke-width="1.7"/>
<line x1="1287.4" y1="585" x2="1310.4" y2="585" stroke="#333333" stroke-width="3.3"/>
<line x1="1326.5" y1="533.54" x2="1326.5" y2="536.59" stroke="#333333" stroke-width="1.7"/>
<line x1="1326.5" y1="571.44" x2="1326.5" y2="577.8" stroke="#333333" stroke-width="1.7"/>
<rect x="1315" y="536.59" width="23" height="34.85" fill="#3D9E44" stroke="#333333" stroke-width="1.7"/>
<line x1="1315" y1="554.84" x2="1338" y2="554.84" stroke="#333333" stroke-width="3.3"/>
<line x1="1354.1" y1="527.46" x2="1354.1" y2="540.18" stroke="#333333" stroke-width="1.7"/>
<line x1="1354.1" y1="567.85" x2="1354.1" y2="591.91" stroke="#333333" stroke-width="1.7"/>
<rect x="1342.6" y="540.18" width="23" height="27.66" fill="#5AB560" stroke="#333333" stroke-width="1.7"/>
<line x1="1342.6" y1="550.42" x2="1365.6" y2="550.42" stroke="#333333" stroke-width="3.3"/>
<line x1="1381.7" y1="529.39" x2="1381.7" y2="541.29" stroke="#333333" stroke-width="1.7"/>
<line x1="1381.7" y1="560.38" x2="1381.7" y2="578.36" stroke="#333333" stroke-width="1.7"/>
<rect x="1370.2" y="541.29" width="23" height="19.09" fill="#76C87D" stroke="#333333" stroke-width="1.7"/>
<line x1="1370.2" y1="549.04" x2="1393.2" y2="549.04" stroke="#333333" stroke-width="3.3"/>
<circle cx="1381.7" cy="622.74" r="3.6" fill="#000"/>
<line x1="1409.3" y1="540.46" x2="1409.3" y2="555.95" stroke="#333333" stroke-width="1.7"/>
<line x1="1409.3" y1="577.53" x2="1409.3" y2="579.74" stroke="#333333" stroke-width="1.7"/>
<rect x="1397.8" y="555.95" width="23" height="21.58" fill="#95D798" stroke="#333333" stroke-width="1.7"/>
<line x1="1397.8" y1="569.23" x2="1420.8" y2="569.23" stroke="#333333" stroke-width="3.3"/>
<circle cx="1409.3" cy="619.7" r="3.6" fill="#000"/>
<rect x="802.7" y="437.65" width="642.6" height="214.35" fill="none" stroke="#333333" stroke-width="1.3"/>
<line x1="894.35" y1="652" x2="894.35" y2="656.6" stroke="#333333" stroke-width="1.3"/>
<line x1="1124.25" y1="652" x2="1124.25" y2="656.6" stroke="#333333" stroke-width="1.3"/>
<line x1="1354.1" y1="652" x2="1354.1" y2="656.6" stroke="#333333" stroke-width="1.3"/>
<line x1="798.1" y1="452.1" x2="802.7" y2="452.1" stroke="#333333" stroke-width="1.3"/>
<text transform="translate(793.1,461.6) scale(0.94,1)" font-size="32.75" text-anchor="end">0.6</text>
<line x1="798.1" y1="537.1" x2="802.7" y2="537.1" stroke="#333333" stroke-width="1.3"/>
<text transform="translate(793.1,546.6) scale(0.94,1)" font-size="32.75" text-anchor="end">0.4</text>
<line x1="798.1" y1="621.2" x2="802.7" y2="621.2" stroke="#333333" stroke-width="1.3"/>
<text transform="translate(793.1,630.7) scale(0.94,1)" font-size="32.75" text-anchor="end">0.2</text>
<text transform="translate(1366.16,463.85) scale(1.0248,1)" font-size="29.5" stroke="#000" stroke-width="2.2" stroke-linejoin="miter" style="font-kerning:none" letter-spacing="2.6">BSD</text>
</g>
<g id="LA">
<rect x="307.7" y="656.65" width="215.7" height="214.35" fill="#E6E6E6"/>
<line x1="129.05" y1="789.44" x2="129.05" y2="797.19" stroke="#333333" stroke-width="1.7"/>
<line x1="129.05" y1="815.44" x2="129.05" y2="824.3" stroke="#333333" stroke-width="1.7"/>
<rect x="117.55" y="797.19" width="23" height="18.26" fill="#FFFFFF" stroke="#333333" stroke-width="1.7"/>
<line x1="117.55" y1="800.51" x2="140.55" y2="800.51" stroke="#333333" stroke-width="3.3"/>
<line x1="156.65" y1="691.52" x2="156.65" y2="704.79" stroke="#333333" stroke-width="1.7"/>
<rect x="145.15" y="704.79" width="23" height="11.62" fill="#3D9E44" stroke="#333333" stroke-width="1.7"/>
<line x1="145.15" y1="712.54" x2="168.15" y2="712.54" stroke="#333333" stroke-width="3.3"/>
<circle cx="156.65" cy="741.99" r="3.6" fill="#000"/>
<line x1="184.25" y1="678.24" x2="184.25" y2="679.9" stroke="#333333" stroke-width="1.7"/>
<line x1="184.25" y1="702.03" x2="184.25" y2="711.16" stroke="#333333" stroke-width="1.7"/>
<rect x="172.75" y="679.9" width="23" height="22.13" fill="#5AB560" stroke="#333333" stroke-width="1.7"/>
<line x1="172.75" y1="694.28" x2="195.75" y2="694.28" stroke="#333333" stroke-width="3.3"/>
<line x1="211.85" y1="680.73" x2="211.85" y2="692.9" stroke="#333333" stroke-width="1.7"/>
<line x1="211.85" y1="704.52" x2="211.85" y2="716.14" stroke="#333333" stroke-width="1.7"/>
<rect x="200.35" y="692.9" width="23" height="11.62" fill="#76C87D" stroke="#333333" stroke-width="1.7"/>
<line x1="200.35" y1="701.2" x2="223.35" y2="701.2" stroke="#333333" stroke-width="3.3"/>
<line x1="239.45" y1="705.62" x2="239.45" y2="714.48" stroke="#333333" stroke-width="1.7"/>
<line x1="239.45" y1="727.48" x2="239.45" y2="734.12" stroke="#333333" stroke-width="1.7"/>
<rect x="227.95" y="714.48" width="23" height="13" fill="#95D798" stroke="#333333" stroke-width="1.7"/>
<line x1="227.95" y1="723.61" x2="250.95" y2="723.61" stroke="#333333" stroke-width="3.3"/>
<line x1="358.95" y1="811.57" x2="358.95" y2="818.76" stroke="#333333" stroke-width="1.7"/>
<rect x="347.45" y="805.76" width="23" height="5.81" fill="#FFFFFF" stroke="#333333" stroke-width="1.7"/>
<line x1="347.45" y1="807.7" x2="370.45" y2="807.7" stroke="#333333" stroke-width="3.3"/>
<circle cx="358.95" cy="787.36" r="3.6" fill="#000"/>
<circle cx="358.95" cy="794.82" r="3.6" fill="#000"/>
<circle cx="358.95" cy="832.45" r="3.6" fill="#000"/>
<line x1="386.55" y1="689.3" x2="386.55" y2="696.5" stroke="#333333" stroke-width="1.7"/>
<line x1="386.55" y1="704.24" x2="386.55" y2="705.35" stroke="#333333" stroke-width="1.7"/>
<rect x="375.05" y="696.5" width="23" height="7.75" fill="#3D9E44" stroke="#333333" stroke-width="1.7"/>
<line x1="375.05" y1="700.09" x2="398.05" y2="700.09" stroke="#333333" stroke-width="3.3"/>
<circle cx="386.55" cy="721.8" r="3.6" fill="#000"/>
<line x1="414.15" y1="666.62" x2="414.15" y2="674.64" stroke="#333333" stroke-width="1.7"/>
<line x1="414.15" y1="684.6" x2="414.15" y2="689.58" stroke="#333333" stroke-width="1.7"/>
<rect x="402.65" y="674.64" width="23" height="9.96" fill="#5AB560" stroke="#333333" stroke-width="1.7"/>
<line x1="402.65" y1="680.73" x2="425.65" y2="680.73" stroke="#333333" stroke-width="3.3"/>
<line x1="441.75" y1="666.34" x2="441.75" y2="676.03" stroke="#333333" stroke-width="1.7"/>
<line x1="441.75" y1="693.45" x2="441.75" y2="702.03" stroke="#333333" stroke-width="1.7"/>
<rect x="430.25" y="676.03" width="23" height="17.43" fill="#76C87D" stroke="#333333" stroke-width="1.7"/>
<line x1="430.25" y1="687.92" x2="453.25" y2="687.92" stroke="#333333" stroke-width="3.3"/>
<line x1="469.35" y1="701.75" x2="469.35" y2="705.62" stroke="#333333" stroke-width="1.7"/>
<line x1="469.35" y1="721.12" x2="469.35" y2="728.31" stroke="#333333" stroke-width="1.7"/>
<rect x="457.85" y="705.62" width="23" height="15.49" fill="#95D798" stroke="#333333" stroke-width="1.7"/>
<line x1="457.85" y1="711.99" x2="480.85" y2="711.99" stroke="#333333" stroke-width="3.3"/>
<line x1="588.8" y1="834.26" x2="588.8" y2="835.64" stroke="#333333" stroke-width="1.7"/>
<line x1="588.8" y1="847.53" x2="588.8" y2="861.36" stroke="#333333" stroke-width="1.7"/>
<rect x="577.3" y="835.64" width="23" height="11.89" fill="#FFFFFF" stroke="#333333" stroke-width="1.7"/>
<line x1="577.3" y1="841.72" x2="600.3" y2="841.72" stroke="#333333" stroke-width="3.3"/>
<circle cx="588.8" cy="815.57" r="3.6" fill="#000"/>
<line x1="616.4" y1="752.1" x2="616.4" y2="758.18" stroke="#333333" stroke-width="1.7"/>
<rect x="604.9" y="758.18" width="23" height="10.24" fill="#3D9E44" stroke="#333333" stroke-width="1.7"/>
<line x1="604.9" y1="764.55" x2="627.9" y2="764.55" stroke="#333333" stroke-width="3.3"/>
<circle cx="616.4" cy="790.12" r="3.6" fill="#000"/>
<circle cx="616.4" cy="818.89" r="3.6" fill="#000"/>
<line x1="644" y1="753.48" x2="644" y2="759.01" stroke="#333333" stroke-width="1.7"/>
<line x1="644" y1="786.12" x2="644" y2="798.57" stroke="#333333" stroke-width="1.7"/>
<rect x="632.5" y="759.01" width="23" height="27.11" fill="#5AB560" stroke="#333333" stroke-width="1.7"/>
<line x1="632.5" y1="767.87" x2="655.5" y2="767.87" stroke="#333333" stroke-width="3.3"/>
<line x1="671.6" y1="734.67" x2="671.6" y2="747.12" stroke="#333333" stroke-width="1.7"/>
<line x1="671.6" y1="763.99" x2="671.6" y2="774.78" stroke="#333333" stroke-width="1.7"/>
<rect x="660.1" y="747.12" width="23" height="16.87" fill="#76C87D" stroke="#333333" stroke-width="1.7"/>
<line x1="660.1" y1="750.44" x2="683.1" y2="750.44" stroke="#333333" stroke-width="3.3"/>
<line x1="699.2" y1="756.52" x2="699.2" y2="765.93" stroke="#333333" stroke-width="1.7"/>
<line x1="699.2" y1="781.14" x2="699.2" y2="795.8" stroke="#333333" stroke-width="1.7"/>
<rect x="687.7" y="765.93" width="23" height="15.21" fill="#95D798" stroke="#333333" stroke-width="1.7"/>
<line x1="687.7" y1="773.95" x2="710.7" y2="773.95" stroke="#333333" stroke-width="3.3"/>
<rect x="92.6" y="656.65" width="642.9" height="214.35" fill="none" stroke="#333333" stroke-width="1.3"/>
<line x1="184.25" y1="871" x2="184.25" y2="875.6" stroke="#333333" stroke-width="1.3"/>
<line x1="414.15" y1="871" x2="414.15" y2="875.6" stroke="#333333" stroke-width="1.3"/>
<line x1="644" y1="871" x2="644" y2="875.6" stroke="#333333" stroke-width="1.3"/>
<line x1="88" y1="693.7" x2="92.6" y2="693.7" stroke="#333333" stroke-width="1.3"/>
<text transform="translate(83,703.2) scale(0.94,1)" font-size="32.75" text-anchor="end">0.6</text>
<line x1="88" y1="753.5" x2="92.6" y2="753.5" stroke="#333333" stroke-width="1.3"/>
<text transform="translate(83,763) scale(0.94,1)" font-size="32.75" text-anchor="end">0.4</text>
<line x1="88" y1="813.5" x2="92.6" y2="813.5" stroke="#333333" stroke-width="1.3"/>
<text transform="translate(83,823) scale(0.94,1)" font-size="32.75" text-anchor="end">0.2</text>
<text transform="translate(685.11,685.9) scale(1.0449,1)" font-size="29.5" stroke="#000" stroke-width="2.2" stroke-linejoin="miter" style="font-kerning:none" letter-spacing="2.6">LA</text>
</g>
<g id="LL">
<rect x="1016.2" y="656.65" width="215.7" height="213.35" fill="#E6E6E6"/>
<line x1="839.15" y1="800.78" x2="839.15" y2="803" stroke="#333333" stroke-width="1.7"/>
<line x1="839.15" y1="821.81" x2="839.15" y2="830.66" stroke="#333333" stroke-width="1.7"/>
<rect x="827.65" y="803" width="23" height="18.81" fill="#FFFFFF" stroke="#333333" stroke-width="1.7"/>
<line x1="827.65" y1="810.47" x2="850.65" y2="810.47" stroke="#333333" stroke-width="3.3"/>
<line x1="866.75" y1="699.82" x2="866.75" y2="710.33" stroke="#333333" stroke-width="1.7"/>
<line x1="866.75" y1="726.37" x2="866.75" y2="728.03" stroke="#333333" stroke-width="1.7"/>
<rect x="855.25" y="710.33" width="23" height="16.04" fill="#3D9E44" stroke="#333333" stroke-width="1.7"/>
<line x1="855.25" y1="715.03" x2="878.25" y2="715.03" stroke="#333333" stroke-width="3.3"/>
<circle cx="866.75" cy="751.39" r="3.6" fill="#000"/>
<line x1="894.35" y1="676.3" x2="894.35" y2="683.77" stroke="#333333" stroke-width="1.7"/>
<line x1="894.35" y1="701.2" x2="894.35" y2="716.14" stroke="#333333" stroke-width="1.7"/>
<rect x="882.85" y="683.77" width="23" height="17.43" fill="#5AB560" stroke="#333333" stroke-width="1.7"/>
<line x1="882.85" y1="699.82" x2="905.85" y2="699.82" stroke="#333333" stroke-width="3.3"/>
<line x1="921.95" y1="680.17" x2="921.95" y2="694.01" stroke="#333333" stroke-width="1.7"/>
<line x1="921.95" y1="706.18" x2="921.95" y2="721.67" stroke="#333333" stroke-width="1.7"/>
<rect x="910.45" y="694.01" width="23" height="12.17" fill="#76C87D" stroke="#333333" stroke-width="1.7"/>
<line x1="910.45" y1="700.09" x2="933.45" y2="700.09" stroke="#333333" stroke-width="3.3"/>
<line x1="949.55" y1="705.62" x2="949.55" y2="714.2" stroke="#333333" stroke-width="1.7"/>
<line x1="949.55" y1="733.29" x2="949.55" y2="744.35" stroke="#333333" stroke-width="1.7"/>
<rect x="938.05" y="714.2" width="23" height="19.09" fill="#95D798" stroke="#333333" stroke-width="1.7"/>
<line x1="938.05" y1="729.41" x2="961.05" y2="729.41" stroke="#333333" stroke-width="3.3"/>
<line x1="1069.05" y1="803.55" x2="1069.05" y2="814.34" stroke="#333333" stroke-width="1.7"/>
<line x1="1069.05" y1="823.19" x2="1069.05" y2="827.34" stroke="#333333" stroke-width="1.7"/>
<rect x="1057.55" y="814.34" width="23" height="8.85" fill="#FFFFFF" stroke="#333333" stroke-width="1.7"/>
<line x1="1057.55" y1="820.42" x2="1080.55" y2="820.42" stroke="#333333" stroke-width="3.3"/>
<circle cx="1069.05" cy="795.65" r="3.6" fill="#000"/>
<circle cx="1069.05" cy="839.36" r="3.6" fill="#000"/>
<line x1="1096.65" y1="697.33" x2="1096.65" y2="701.48" stroke="#333333" stroke-width="1.7"/>
<line x1="1096.65" y1="716.97" x2="1096.65" y2="731.63" stroke="#333333" stroke-width="1.7"/>
<rect x="1085.15" y="701.48" width="23" height="15.49" fill="#3D9E44" stroke="#333333" stroke-width="1.7"/>
<line x1="1085.15" y1="703.41" x2="1108.15" y2="703.41" stroke="#333333" stroke-width="3.3"/>
<line x1="1124.25" y1="674.09" x2="1124.25" y2="679.62" stroke="#333333" stroke-width="1.7"/>
<line x1="1124.25" y1="686.54" x2="1124.25" y2="691.79" stroke="#333333" stroke-width="1.7"/>
<rect x="1112.75" y="679.62" width="23" height="6.92" fill="#5AB560" stroke="#333333" stroke-width="1.7"/>
<line x1="1112.75" y1="682.11" x2="1135.75" y2="682.11" stroke="#333333" stroke-width="3.3"/>
<circle cx="1124.25" cy="665.92" r="3.6" fill="#000"/>
<circle cx="1124.25" cy="697.45" r="3.6" fill="#000"/>
<line x1="1151.85" y1="669.11" x2="1151.85" y2="674.09" stroke="#333333" stroke-width="1.7"/>
<line x1="1151.85" y1="696.5" x2="1151.85" y2="706.45" stroke="#333333" stroke-width="1.7"/>
<rect x="1140.35" y="674.09" width="23" height="22.41" fill="#76C87D" stroke="#333333" stroke-width="1.7"/>
<line x1="1140.35" y1="689.58" x2="1163.35" y2="689.58" stroke="#333333" stroke-width="3.3"/>
<line x1="1179.45" y1="701.48" x2="1179.45" y2="708.39" stroke="#333333" stroke-width="1.7"/>
<line x1="1179.45" y1="726.37" x2="1179.45" y2="739.93" stroke="#333333" stroke-width="1.7"/>
<rect x="1167.95" y="708.39" width="23" height="17.98" fill="#95D798" stroke="#333333" stroke-width="1.7"/>
<line x1="1167.95" y1="710.33" x2="1190.95" y2="710.33" stroke="#333333" stroke-width="3.3"/>
<line x1="1298.9" y1="836.47" x2="1298.9" y2="838.4" stroke="#333333" stroke-width="1.7"/>
<line x1="1298.9" y1="852.79" x2="1298.9" y2="860.81" stroke="#333333" stroke-width="1.7"/>
<rect x="1287.4" y="838.4" width="23" height="14.38" fill="#FFFFFF" stroke="#333333" stroke-width="1.7"/>
<line x1="1287.4" y1="846.98" x2="1310.4" y2="846.98" stroke="#333333" stroke-width="3.3"/>
<circle cx="1298.9" cy="815.02" r="3.6" fill="#000"/>
<line x1="1326.5" y1="763.72" x2="1326.5" y2="773.67" stroke="#333333" stroke-width="1.7"/>
<line x1="1326.5" y1="790.27" x2="1326.5" y2="800.23" stroke="#333333" stroke-width="1.7"/>
<rect x="1315" y="773.67" width="23" height="16.6" fill="#3D9E44" stroke="#333333" stroke-width="1.7"/>
<line x1="1315" y1="776.99" x2="1338" y2="776.99" stroke="#333333" stroke-width="3.3"/>
<line x1="1354.1" y1="756.25" x2="1354.1" y2="765.93" stroke="#333333" stroke-width="1.7"/>
<line x1="1354.1" y1="788.06" x2="1354.1" y2="798.29" stroke="#333333" stroke-width="1.7"/>
<rect x="1342.6" y="765.93" width="23" height="22.13" fill="#5AB560" stroke="#333333" stroke-width="1.7"/>
<line x1="1342.6" y1="779.76" x2="1365.6" y2="779.76" stroke="#333333" stroke-width="3.3"/>
<line x1="1381.7" y1="742.14" x2="1381.7" y2="754.03" stroke="#333333" stroke-width="1.7"/>
<line x1="1381.7" y1="767.04" x2="1381.7" y2="777.55" stroke="#333333" stroke-width="1.7"/>
<rect x="1370.2" y="754.03" width="23" height="13" fill="#76C87D" stroke="#333333" stroke-width="1.7"/>
<line x1="1370.2" y1="757.63" x2="1393.2" y2="757.63" stroke="#333333" stroke-width="3.3"/>
<line x1="1409.3" y1="763.72" x2="1409.3" y2="771.74" stroke="#333333" stroke-width="1.7"/>
<line x1="1409.3" y1="780.59" x2="1409.3" y2="781.97" stroke="#333333" stroke-width="1.7"/>
<rect x="1397.8" y="771.74" width="23" height="8.85" fill="#95D798" stroke="#333333" stroke-width="1.7"/>
<line x1="1397.8" y1="776.16" x2="1420.8" y2="776.16" stroke="#333333" stroke-width="3.3"/>
<circle cx="1409.3" cy="753.33" r="3.6" fill="#000"/>
<circle cx="1409.3" cy="797.87" r="3.6" fill="#000"/>
<rect x="802.7" y="656.65" width="642.6" height="213.35" fill="none" stroke="#333333" stroke-width="1.3"/>
<line x1="894.35" y1="870" x2="894.35" y2="874.6" stroke="#333333" stroke-width="1.3"/>
<line x1="1124.25" y1="870" x2="1124.25" y2="874.6" stroke="#333333" stroke-width="1.3"/>
<line x1="1354.1" y1="870" x2="1354.1" y2="874.6" stroke="#333333" stroke-width="1.3"/>
<line x1="798.1" y1="686" x2="802.7" y2="686" stroke="#333333" stroke-width="1.3"/>
<text transform="translate(793.1,695.5) scale(0.94,1)" font-size="32.75" text-anchor="end">0.6</text>
<line x1="798.1" y1="747.4" x2="802.7" y2="747.4" stroke="#333333" stroke-width="1.3"/>
<text transform="translate(793.1,756.9) scale(0.94,1)" font-size="32.75" text-anchor="end">0.4</text>
<line x1="798.1" y1="808.2" x2="802.7" y2="808.2" stroke="#333333" stroke-width="1.3"/>
<text transform="translate(793.1,817.7) scale(0.94,1)" font-size="32.75" text-anchor="end">0.2</text>
<text transform="translate(1396.16,684.8) scale(1.0267,1)" font-size="29.5" stroke="#000" stroke-width="2.2" stroke-linejoin="miter" style="font-kerning:none" letter-spacing="2.6">LL</text>
</g>
<g id="LW">
<rect x="307.7" y="875.7" width="215.7" height="213.6" fill="#E6E6E6"/>
<line x1="129.05" y1="1007.17" x2="129.05" y2="1014.91" stroke="#333333" stroke-width="1.7"/>
<line x1="129.05" y1="1031.51" x2="129.05" y2="1044.79" stroke="#333333" stroke-width="1.7"/>
<rect x="117.55" y="1014.91" width="23" height="16.6" fill="#FFFFFF" stroke="#333333" stroke-width="1.7"/>
<line x1="117.55" y1="1020.17" x2="140.55" y2="1020.17" stroke="#333333" stroke-width="3.3"/>
<line x1="156.65" y1="907.58" x2="156.65" y2="923.07" stroke="#333333" stroke-width="1.7"/>
<line x1="156.65" y1="938.29" x2="156.65" y2="960.69" stroke="#333333" stroke-width="1.7"/>
<rect x="145.15" y="923.07" width="23" height="15.21" fill="#3D9E44" stroke="#333333" stroke-width="1.7"/>
<line x1="145.15" y1="927.22" x2="168.15" y2="927.22" stroke="#333333" stroke-width="3.3"/>
<line x1="184.25" y1="893.47" x2="184.25" y2="902.88" stroke="#333333" stroke-width="1.7"/>
<line x1="184.25" y1="921.69" x2="184.25" y2="925.84" stroke="#333333" stroke-width="1.7"/>
<rect x="172.75" y="902.88" width="23" height="18.81" fill="#5AB560" stroke="#333333" stroke-width="1.7"/>
<line x1="172.75" y1="911.45" x2="195.75" y2="911.45" stroke="#333333" stroke-width="3.3"/>
<line x1="211.85" y1="904.26" x2="211.85" y2="915.05" stroke="#333333" stroke-width="1.7"/>
<line x1="211.85" y1="928.33" x2="211.85" y2="932.75" stroke="#333333" stroke-width="1.7"/>
<rect x="200.35" y="915.05" width="23" height="13.28" fill="#76C87D" stroke="#333333" stroke-width="1.7"/>
<line x1="200.35" y1="919.2" x2="223.35" y2="919.2" stroke="#333333" stroke-width="3.3"/>
<line x1="239.45" y1="929.71" x2="239.45" y2="936.9" stroke="#333333" stroke-width="1.7"/>
<line x1="239.45" y1="945.75" x2="239.45" y2="949.63" stroke="#333333" stroke-width="1.7"/>
<rect x="227.95" y="936.9" width="23" height="8.85" fill="#95D798" stroke="#333333" stroke-width="1.7"/>
<line x1="227.95" y1="941.05" x2="250.95" y2="941.05" stroke="#333333" stroke-width="3.3"/>
<line x1="358.95" y1="1011.31" x2="358.95" y2="1020.72" stroke="#333333" stroke-width="1.7"/>
<line x1="358.95" y1="1029.02" x2="358.95" y2="1029.85" stroke="#333333" stroke-width="1.7"/>
<rect x="347.45" y="1020.72" width="23" height="8.3" fill="#FFFFFF" stroke="#333333" stroke-width="1.7"/>
<line x1="347.45" y1="1024.32" x2="370.45" y2="1024.32" stroke="#333333" stroke-width="3.3"/>
<circle cx="358.95" cy="1043.81" r="3.6" fill="#000"/>
<line x1="386.55" y1="904.54" x2="386.55" y2="913.67" stroke="#333333" stroke-width="1.7"/>
<line x1="386.55" y1="924.18" x2="386.55" y2="928.05" stroke="#333333" stroke-width="1.7"/>
<rect x="375.05" y="913.67" width="23" height="10.51" fill="#3D9E44" stroke="#333333" stroke-width="1.7"/>
<line x1="375.05" y1="921.13" x2="398.05" y2="921.13" stroke="#333333" stroke-width="3.3"/>
<circle cx="386.55" cy="941.18" r="3.6" fill="#000"/>
<line x1="414.15" y1="889.05" x2="414.15" y2="893.75" stroke="#333333" stroke-width="1.7"/>
<line x1="414.15" y1="906.75" x2="414.15" y2="912.56" stroke="#333333" stroke-width="1.7"/>
<rect x="402.65" y="893.75" width="23" height="13" fill="#5AB560" stroke="#333333" stroke-width="1.7"/>
<line x1="402.65" y1="899.28" x2="425.65" y2="899.28" stroke="#333333" stroke-width="3.3"/>
<line x1="441.75" y1="885.45" x2="441.75" y2="895.41" stroke="#333333" stroke-width="1.7"/>
<line x1="441.75" y1="910.07" x2="441.75" y2="918.92" stroke="#333333" stroke-width="1.7"/>
<rect x="430.25" y="895.41" width="23" height="14.66" fill="#76C87D" stroke="#333333" stroke-width="1.7"/>
<line x1="430.25" y1="906.47" x2="453.25" y2="906.47" stroke="#333333" stroke-width="3.3"/>
<line x1="469.35" y1="922.79" x2="469.35" y2="925.84" stroke="#333333" stroke-width="1.7"/>
<line x1="469.35" y1="938.29" x2="469.35" y2="946.03" stroke="#333333" stroke-width="1.7"/>
<rect x="457.85" y="925.84" width="23" height="12.45" fill="#95D798" stroke="#333333" stroke-width="1.7"/>
<line x1="457.85" y1="929.99" x2="480.85" y2="929.99" stroke="#333333" stroke-width="3.3"/>
<line x1="588.8" y1="1040.36" x2="588.8" y2="1045.89" stroke="#333333" stroke-width="1.7"/>
<line x1="588.8" y1="1066.64" x2="588.8" y2="1079.92" stroke="#333333" stroke-width="1.7"/>
<rect x="577.3" y="1045.89" width="23" height="20.75" fill="#FFFFFF" stroke="#333333" stroke-width="1.7"/>
<line x1="577.3" y1="1058.89" x2="600.3" y2="1058.89" stroke="#333333" stroke-width="3.3"/>
<line x1="616.4" y1="982.27" x2="616.4" y2="985.59" stroke="#333333" stroke-width="1.7"/>
<line x1="616.4" y1="1009.1" x2="616.4" y2="1014.63" stroke="#333333" stroke-width="1.7"/>
<rect x="604.9" y="985.59" width="23" height="23.51" fill="#3D9E44" stroke="#333333" stroke-width="1.7"/>
<line x1="604.9" y1="990.01" x2="627.9" y2="990.01" stroke="#333333" stroke-width="3.3"/>
<line x1="644" y1="972.31" x2="644" y2="975.35" stroke="#333333" stroke-width="1.7"/>
<line x1="644" y1="992.78" x2="644" y2="1011.59" stroke="#333333" stroke-width="1.7"/>
<rect x="632.5" y="975.35" width="23" height="17.43" fill="#5AB560" stroke="#333333" stroke-width="1.7"/>
<line x1="632.5" y1="977.57" x2="655.5" y2="977.57" stroke="#333333" stroke-width="3.3"/>
<circle cx="644" cy="1021.4" r="3.6" fill="#000"/>
<line x1="671.6" y1="953.5" x2="671.6" y2="966.22" stroke="#333333" stroke-width="1.7"/>
<line x1="671.6" y1="985.31" x2="671.6" y2="993.33" stroke="#333333" stroke-width="1.7"/>
<rect x="660.1" y="966.22" width="23" height="19.09" fill="#76C87D" stroke="#333333" stroke-width="1.7"/>
<line x1="660.1" y1="971.76" x2="683.1" y2="971.76" stroke="#333333" stroke-width="3.3"/>
<line x1="699.2" y1="976.46" x2="699.2" y2="985.31" stroke="#333333" stroke-width="1.7"/>
<line x1="699.2" y1="994.16" x2="699.2" y2="996.93" stroke="#333333" stroke-width="1.7"/>
<rect x="687.7" y="985.31" width="23" height="8.85" fill="#95D798" stroke="#333333" stroke-width="1.7"/>
<line x1="687.7" y1="991.95" x2="710.7" y2="991.95" stroke="#333333" stroke-width="3.3"/>
<circle cx="699.2" cy="1009.23" r="3.6" fill="#000"/>
<rect x="92.6" y="875.7" width="642.9" height="213.6" fill="none" stroke="#333333" stroke-width="1.3"/>
<line x1="184.25" y1="1089.3" x2="184.25" y2="1093.9" stroke="#333333" stroke-width="1.3"/>
<line x1="414.15" y1="1089.3" x2="414.15" y2="1093.9" stroke="#333333" stroke-width="1.3"/>
<line x1="644" y1="1089.3" x2="644" y2="1093.9" stroke="#333333" stroke-width="1.3"/>
<line x1="88" y1="910" x2="92.6" y2="910" stroke="#333333" stroke-width="1.3"/>
<text transform="translate(83,919.5) scale(0.94,1)" font-size="32.75" text-anchor="end">0.6</text>
<line x1="88" y1="966.2" x2="92.6" y2="966.2" stroke="#333333" stroke-width="1.3"/>
<text transform="translate(83,975.7) scale(0.94,1)" font-size="32.75" text-anchor="end">0.4</text>
<line x1="88" y1="1022.4" x2="92.6" y2="1022.4" stroke="#333333" stroke-width="1.3"/>
<text transform="translate(83,1031.9) scale(0.94,1)" font-size="32.75" text-anchor="end">0.2</text>
<text transform="translate(678.06,903) scale(1.0317,1)" font-size="29.5" stroke="#000" stroke-width="2.2" stroke-linejoin="miter" style="font-kerning:none" letter-spacing="2.6">LW</text>
</g>
<g id="LVA">
<rect x="1016.2" y="874.65" width="215.7" height="214.55" fill="#E6E6E6"/>
<line x1="839.15" y1="972.59" x2="839.15" y2="974.8" stroke="#333333" stroke-width="1.7"/>
<line x1="839.15" y1="992.78" x2="839.15" y2="1001.63" stroke="#333333" stroke-width="1.7"/>
<rect x="827.65" y="974.8" width="23" height="17.98" fill="#FFFFFF" stroke="#333333" stroke-width="1.7"/>
<line x1="827.65" y1="982.27" x2="850.65" y2="982.27" stroke="#333333" stroke-width="3.3"/>
<circle cx="839.15" cy="942.84" r="3.6" fill="#000"/>
<circle cx="839.15" cy="1023.61" r="3.6" fill="#000"/>
<line x1="866.75" y1="932.48" x2="866.75" y2="934.97" stroke="#333333" stroke-width="1.7"/>
<line x1="866.75" y1="951.84" x2="866.75" y2="967.05" stroke="#333333" stroke-width="1.7"/>
<rect x="855.25" y="934.97" width="23" height="16.87" fill="#3D9E44" stroke="#333333" stroke-width="1.7"/>
<line x1="855.25" y1="940.22" x2="878.25" y2="940.22" stroke="#333333" stroke-width="3.3"/>
<line x1="894.35" y1="912.56" x2="894.35" y2="920.58" stroke="#333333" stroke-width="1.7"/>
<line x1="894.35" y1="935.52" x2="894.35" y2="944.92" stroke="#333333" stroke-width="1.7"/>
<rect x="882.85" y="920.58" width="23" height="14.94" fill="#5AB560" stroke="#333333" stroke-width="1.7"/>
<line x1="882.85" y1="922.79" x2="905.85" y2="922.79" stroke="#333333" stroke-width="3.3"/>
<line x1="921.95" y1="894.58" x2="921.95" y2="912.01" stroke="#333333" stroke-width="1.7"/>
<line x1="921.95" y1="931.92" x2="921.95" y2="948.52" stroke="#333333" stroke-width="1.7"/>
<rect x="910.45" y="912.01" width="23" height="19.92" fill="#76C87D" stroke="#333333" stroke-width="1.7"/>
<line x1="910.45" y1="922.24" x2="933.45" y2="922.24" stroke="#333333" stroke-width="3.3"/>
<line x1="949.55" y1="907.3" x2="949.55" y2="923.9" stroke="#333333" stroke-width="1.7"/>
<line x1="949.55" y1="943.26" x2="949.55" y2="951.84" stroke="#333333" stroke-width="1.7"/>
<rect x="938.05" y="923.9" width="23" height="19.36" fill="#95D798" stroke="#333333" stroke-width="1.7"/>
<line x1="938.05" y1="930.26" x2="961.05" y2="930.26" stroke="#333333" stroke-width="3.3"/>
<line x1="1069.05" y1="951.84" x2="1069.05" y2="964.84" stroke="#333333" stroke-width="1.7"/>
<line x1="1069.05" y1="979.23" x2="1069.05" y2="994.16" stroke="#333333" stroke-width="1.7"/>
<rect x="1057.55" y="964.84" width="23" height="14.38" fill="#FFFFFF" stroke="#333333" stroke-width="1.7"/>
<line x1="1057.55" y1="972.03" x2="1080.55" y2="972.03" stroke="#333333" stroke-width="3.3"/>
<line x1="1096.65" y1="910.9" x2="1096.65" y2="928.6" stroke="#333333" stroke-width="1.7"/>
<line x1="1096.65" y1="947.14" x2="1096.65" y2="953.5" stroke="#333333" stroke-width="1.7"/>
<rect x="1085.15" y="928.6" width="23" height="18.53" fill="#3D9E44" stroke="#333333" stroke-width="1.7"/>
<line x1="1085.15" y1="944.09" x2="1108.15" y2="944.09" stroke="#333333" stroke-width="3.3"/>
<circle cx="1096.65" cy="984.61" r="3.6" fill="#000"/>
<line x1="1124.25" y1="899.56" x2="1124.25" y2="900.66" stroke="#333333" stroke-width="1.7"/>
<line x1="1124.25" y1="909.24" x2="1124.25" y2="915.05" stroke="#333333" stroke-width="1.7"/>
<rect x="1112.75" y="900.66" width="23" height="8.58" fill="#5AB560" stroke="#333333" stroke-width="1.7"/>
<line x1="1112.75" y1="907.3" x2="1135.75" y2="907.3" stroke="#333333" stroke-width="3.3"/>
<circle cx="1124.25" cy="888.62" r="3.6" fill="#000"/>
<line x1="1151.85" y1="884.62" x2="1151.85" y2="895.69" stroke="#333333" stroke-width="1.7"/>
<line x1="1151.85" y1="913.94" x2="1151.85" y2="918.37" stroke="#333333" stroke-width="1.7"/>
<rect x="1140.35" y="895.69" width="23" height="18.26" fill="#76C87D" stroke="#333333" stroke-width="1.7"/>
<line x1="1140.35" y1="907.58" x2="1163.35" y2="907.58" stroke="#333333" stroke-width="3.3"/>
<line x1="1179.45" y1="910.07" x2="1179.45" y2="919.75" stroke="#333333" stroke-width="1.7"/>
<line x1="1179.45" y1="929.43" x2="1179.45" y2="939.67" stroke="#333333" stroke-width="1.7"/>
<rect x="1167.95" y="919.75" width="23" height="9.68" fill="#95D798" stroke="#333333" stroke-width="1.7"/>
<line x1="1167.95" y1="923.9" x2="1190.95" y2="923.9" stroke="#333333" stroke-width="3.3"/>
<circle cx="1179.45" cy="903.28" r="3.6" fill="#000"/>
<line x1="1298.9" y1="1012.7" x2="1298.9" y2="1033.72" stroke="#333333" stroke-width="1.7"/>
<line x1="1298.9" y1="1068.02" x2="1298.9" y2="1079.36" stroke="#333333" stroke-width="1.7"/>
<rect x="1287.4" y="1033.72" width="23" height="34.3" fill="#FFFFFF" stroke="#333333" stroke-width="1.7"/>
<line x1="1287.4" y1="1055.02" x2="1310.4" y2="1055.02" stroke="#333333" stroke-width="3.3"/>
<line x1="1326.5" y1="962.35" x2="1326.5" y2="982.82" stroke="#333333" stroke-width="1.7"/>
<line x1="1326.5" y1="1003.85" x2="1326.5" y2="1025.15" stroke="#333333" stroke-width="1.7"/>
<rect x="1315" y="982.82" width="23" height="21.02" fill="#3D9E44" stroke="#333333" stroke-width="1.7"/>
<line x1="1315" y1="986.14" x2="1338" y2="986.14" stroke="#333333" stroke-width="3.3"/>
<line x1="1354.1" y1="1003.02" x2="1354.1" y2="1006.89" stroke="#333333" stroke-width="1.7"/>
<rect x="1342.6" y="985.04" width="23" height="17.98" fill="#5AB560" stroke="#333333" stroke-width="1.7"/>
<line x1="1342.6" y1="994.16" x2="1365.6" y2="994.16" stroke="#333333" stroke-width="3.3"/>
<circle cx="1354.1" cy="941.18" r="3.6" fill="#000"/>
<circle cx="1354.1" cy="952.24" r="3.6" fill="#000"/>
<line x1="1381.7" y1="954.61" x2="1381.7" y2="974.8" stroke="#333333" stroke-width="1.7"/>
<line x1="1381.7" y1="993.06" x2="1381.7" y2="1004.68" stroke="#333333" stroke-width="1.7"/>
<rect x="1370.2" y="974.8" width="23" height="18.26" fill="#76C87D" stroke="#333333" stroke-width="1.7"/>
<line x1="1370.2" y1="978.4" x2="1393.2" y2="978.4" stroke="#333333" stroke-width="3.3"/>
<line x1="1409.3" y1="984.48" x2="1409.3" y2="997.21" stroke="#333333" stroke-width="1.7"/>
<line x1="1409.3" y1="1007.44" x2="1409.3" y2="1009.65" stroke="#333333" stroke-width="1.7"/>
<rect x="1397.8" y="997.21" width="23" height="10.24" fill="#95D798" stroke="#333333" stroke-width="1.7"/>
<line x1="1397.8" y1="1004.68" x2="1420.8" y2="1004.68" stroke="#333333" stroke-width="3.3"/>
<rect x="802.7" y="874.65" width="642.6" height="214.55" fill="none" stroke="#333333" stroke-width="1.3"/>
<line x1="894.35" y1="1089.2" x2="894.35" y2="1093.8" stroke="#333333" stroke-width="1.3"/>
<line x1="1124.25" y1="1089.2" x2="1124.25" y2="1093.8" stroke="#333333" stroke-width="1.3"/>
<line x1="1354.1" y1="1089.2" x2="1354.1" y2="1093.8" stroke="#333333" stroke-width="1.3"/>
<line x1="798.1" y1="905.3" x2="802.7" y2="905.3" stroke="#333333" stroke-width="1.3"/>
<text transform="translate(793.1,914.8) scale(0.94,1)" font-size="32.75" text-anchor="end">0.6</text>
<line x1="798.1" y1="981.7" x2="802.7" y2="981.7" stroke="#333333" stroke-width="1.3"/>
<text transform="translate(793.1,991.2) scale(0.94,1)" font-size="32.75" text-anchor="end">0.4</text>
<line x1="798.1" y1="1057.8" x2="802.7" y2="1057.8" stroke="#333333" stroke-width="1.3"/>
<text transform="translate(793.1,1067.3) scale(0.94,1)" font-size="32.75" text-anchor="end">0.2</text>
<text transform="translate(1368.03,900.85) scale(1.0582,1)" font-size="29.5" stroke="#000" stroke-width="2.2" stroke-linejoin="miter" style="font-kerning:none" letter-spacing="2.6">LVA</text>
</g>
<text transform="translate(121.96,1121) scale(0.9592,1)" font-size="32.75">BayesA</text>
<text transform="translate(382.6,1121) scale(0.9646,1)" font-size="32.75">BRR</text>
<text transform="translate(582.67,1121) scale(0.9515,1)" font-size="32.75">BayesC</text>
<text transform="translate(832.06,1121) scale(0.9592,1)" font-size="32.75">BayesA</text>
<text transform="translate(1092.7,1121) scale(0.9646,1)" font-size="32.75">BRR</text>
<text transform="translate(1292.77,1121) scale(0.9515,1)" font-size="32.75">BayesC</text>
<text transform="translate(23.2,692.62) rotate(-90) scale(0.9711,1)" font-size="32.0">Prediction accuracy</text>
<line x1="229" y1="1131" x2="229" y2="1168.8" stroke="#333333" stroke-width="1.7"/>
<rect x="213.45" y="1138.05" width="31.1" height="24" fill="#FFFFFF" stroke="#333333" stroke-width="1.7"/>
<line x1="213.45" y1="1150.1" x2="244.55" y2="1150.1" stroke="#333333" stroke-width="2"/>
<line x1="365.4" y1="1131" x2="365.4" y2="1168.8" stroke="#333333" stroke-width="1.7"/>
<rect x="349.85" y="1138.05" width="31.1" height="24" fill="#3D9E44" stroke="#333333" stroke-width="1.7"/>
<line x1="349.85" y1="1150.1" x2="380.95" y2="1150.1" stroke="#333333" stroke-width="2"/>
<line x1="615.8" y1="1131" x2="615.8" y2="1168.8" stroke="#333333" stroke-width="1.7"/>
<rect x="600.25" y="1138.05" width="31.1" height="24" fill="#5AB560" stroke="#333333" stroke-width="1.7"/>
<line x1="600.25" y1="1150.1" x2="631.35" y2="1150.1" stroke="#333333" stroke-width="2"/>
<line x1="866" y1="1131" x2="866" y2="1168.8" stroke="#333333" stroke-width="1.7"/>
<rect x="850.45" y="1138.05" width="31.1" height="24" fill="#76C87D" stroke="#333333" stroke-width="1.7"/>
<line x1="850.45" y1="1150.1" x2="881.55" y2="1150.1" stroke="#333333" stroke-width="2"/>
<line x1="1116.45" y1="1131" x2="1116.45" y2="1168.8" stroke="#333333" stroke-width="1.7"/>
<rect x="1100.9" y="1138.05" width="31.1" height="24" fill="#95D798" stroke="#333333" stroke-width="1.7"/>
<line x1="1100.9" y1="1150.1" x2="1132" y2="1150.1" stroke="#333333" stroke-width="2"/>
<text transform="translate(257.95,1159.75) scale(0.9875,1)" font-size="27.2">Model</text>
<text transform="translate(395.16,1159.75) scale(0.9828,1)" font-size="27.2">Model + 10</text>
<line x1="533" y1="1145.2" x2="540.4" y2="1145.2" stroke="#000" stroke-width="1.5"/>
<text transform="translate(542.06,1150.8) scale(0.9250,1)" font-size="16">5</text>
<text transform="translate(549.62,1159.75) scale(1.0316,1)" font-size="27.2">sig</text>
<text transform="translate(645.51,1159.75) scale(0.9828,1)" font-size="27.2">Model + 10</text>
<line x1="783.35" y1="1145.2" x2="790.75" y2="1145.2" stroke="#000" stroke-width="1.5"/>
<text transform="translate(792.64,1150.8) scale(0.8645,1)" font-size="16">4</text>
<text transform="translate(799.97,1159.75) scale(1.0316,1)" font-size="27.2">sig</text>
<text transform="translate(895.86,1159.75) scale(0.9828,1)" font-size="27.2">Model + 10</text>
<line x1="1033.7" y1="1145.2" x2="1041.1" y2="1145.2" stroke="#000" stroke-width="1.5"/>
<text transform="translate(1042.83,1150.8) scale(0.9343,1)" font-size="16">3</text>
<text transform="translate(1050.32,1159.75) scale(1.0316,1)" font-size="27.2">sig</text>
<text transform="translate(1146.21,1159.75) scale(0.9828,1)" font-size="27.2">Model + 10</text>
<line x1="1284.05" y1="1145.2" x2="1291.45" y2="1145.2" stroke="#000" stroke-width="1.5"/>
<text transform="translate(1293.01,1150.8) scale(0.9635,1)" font-size="16">2</text>
<text transform="translate(1300.67,1159.75) scale(1.0316,1)" font-size="27.2">sig</text>
</g>
</svg>
</body></html>
